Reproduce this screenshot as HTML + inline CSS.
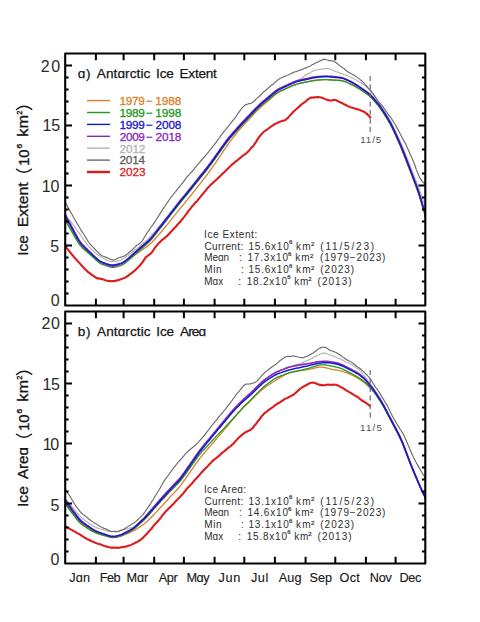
<!DOCTYPE html>
<html><head><meta charset="utf-8"><style>
html,body { margin:0; padding:0; background:#fff; width:480px; height:622px; overflow:hidden; }
svg { display:block; }
</style></head><body>
<svg width="480" height="622" viewBox="0 0 480 622">
<style>
text { font-family: "Liberation Sans", sans-serif; }
</style>
<rect width="480" height="622" fill="#fff"/>
<path d="M65.2,216.7L66.2,217.3L67.2,218.1L68.2,219.0L69.2,219.8L70.2,220.9L71.2,222.0L72.2,223.3L73.2,224.6L74.2,226.0L75.2,227.3L76.2,228.9L77.2,230.3L78.2,231.7L79.2,233.1L80.2,234.6L81.2,236.1L82.2,237.4L83.2,239.0L84.2,240.6L85.2,241.9L86.2,243.1L87.2,244.5L88.2,245.8L89.2,246.9L90.2,248.0L91.2,249.2L92.2,250.1L93.2,250.9L94.2,252.0L95.2,253.0L96.2,253.6L97.2,254.4L98.2,255.2L99.2,255.8L100.2,256.4L101.2,257.1L102.2,257.6L103.2,258.2L104.2,258.7L105.2,259.2L106.2,259.7L107.2,260.4L108.2,260.8L109.2,261.0L110.2,261.4L111.2,261.7L112.2,261.7L113.2,261.6L114.2,261.6L115.2,261.4L116.2,261.3L117.2,261.1L118.2,260.9L119.2,260.8L120.2,260.3L121.2,259.9L122.2,259.4L123.2,258.7L124.2,258.1L125.2,257.5L126.2,256.6L127.2,256.0L128.2,255.4L129.2,254.7L130.2,254.0L131.2,253.3L132.2,252.4L133.2,251.5L134.2,250.6L135.2,249.8L136.2,249.0L137.2,248.1L138.2,247.4L139.2,246.6L140.2,245.7L141.2,244.8L142.2,244.0L143.2,243.1L144.2,242.4L145.2,241.6L146.2,240.7L147.2,239.8L148.2,238.8L149.2,237.7L150.2,236.6L151.2,235.6L152.2,234.5L153.2,233.5L154.2,232.4L155.2,231.3L156.2,230.1L157.2,228.7L158.2,227.4L159.2,226.2L160.2,225.1L161.2,224.0L162.2,222.8L163.2,221.6L164.2,220.3L165.2,218.8L166.2,217.7L167.2,216.7L168.2,215.5L169.2,214.1L170.2,213.0L171.2,211.6L172.2,210.4L173.2,209.1L174.2,207.9L175.2,206.8L176.2,205.4L177.2,204.0L178.2,202.7L179.2,201.4L180.2,200.0L181.2,198.9L182.2,197.6L183.2,196.5L184.2,195.3L185.2,194.2L186.2,192.8L187.2,191.6L188.2,190.1L189.2,189.0L190.2,187.7L191.2,186.6L192.2,185.3L193.2,184.2L194.2,182.8L195.2,181.6L196.2,180.3L197.2,179.0L198.2,177.6L199.2,176.4L200.2,175.2L201.2,173.9L202.2,172.9L203.2,171.9L204.2,170.6L205.2,169.2L206.2,168.0L207.2,166.8L208.2,165.3L209.2,164.0L210.2,162.9L211.2,161.5L212.2,159.9L213.2,158.7L214.2,157.4L215.2,155.9L216.2,154.7L217.2,153.5L218.2,151.9L219.2,150.4L220.2,148.9L221.2,147.4L222.2,146.1L223.2,144.8L224.2,143.4L225.2,142.1L226.2,140.6L227.2,139.3L228.2,138.2L229.2,136.9L230.2,135.7L231.2,134.6L232.2,133.3L233.2,132.3L234.2,131.4L235.2,130.4L236.2,129.2L237.2,128.3L238.2,127.1L239.2,125.8L240.2,124.8L241.2,123.8L242.2,122.5L243.2,121.4L244.2,120.3L245.2,119.0L246.2,118.0L247.2,117.0L248.2,116.0L249.2,115.1L250.2,114.2L251.2,113.2L252.2,112.2L253.2,111.4L254.2,110.6L255.2,109.5L256.2,108.6L257.2,107.8L258.2,106.9L259.2,106.0L260.2,105.2L261.2,104.4L262.2,103.4L263.2,102.3L264.2,101.3L265.2,100.5L266.2,99.7L267.2,98.9L268.2,98.0L269.2,97.0L270.2,96.1L271.2,95.1L272.2,94.0L273.2,93.2L274.2,92.3L275.2,91.6L276.2,90.7L277.2,90.0L278.2,89.3L279.2,88.6L280.2,88.1L281.2,87.6L282.2,87.3L283.2,86.8L284.2,86.5L285.2,85.9L286.2,85.5L287.2,85.0L288.2,84.6L289.2,84.1L290.2,83.6L291.2,83.1L292.2,82.7L293.2,82.2L294.2,81.9L295.2,81.4L296.2,80.9L297.2,80.4L298.2,80.0L299.2,79.5L300.2,79.0L301.2,78.4L302.2,77.7L303.2,76.9L304.2,76.1L305.2,75.4L306.2,74.9L307.2,74.4L308.2,73.9L309.2,73.4L310.2,72.8L311.2,72.1L312.2,71.5L313.2,71.1L314.2,70.6L315.2,70.2L316.2,70.0L317.2,69.8L318.2,69.6L319.2,69.5L320.2,69.4L321.2,69.2L322.2,69.1L323.2,68.8L324.2,68.6L325.2,68.6L326.2,68.7L327.2,68.6L328.2,68.6L329.2,68.9L330.2,69.2L331.2,69.3L332.2,69.9L333.2,70.5L334.2,70.9L335.2,71.1L336.2,71.7L337.2,72.0L338.2,72.4L339.2,72.5L340.2,73.1L341.2,73.5L342.2,73.7L343.2,74.1L344.2,74.6L345.2,75.0L346.2,75.2L347.2,75.7L348.2,76.2L349.2,76.7L350.2,77.0L351.2,77.5L352.2,78.0L353.2,78.4L354.2,78.8L355.2,79.5L356.2,80.1L357.2,80.8L358.2,81.3L359.2,81.8L360.2,82.3L361.2,82.9L362.2,83.5L363.2,84.3L364.2,85.1L365.2,85.9L366.2,86.8L367.2,87.7L368.2,88.7L369.2,89.8L370.2,91.0L371.2,92.3L372.2,93.5L373.2,94.8L374.2,96.3L375.2,97.8L376.2,99.1L377.2,100.5L378.2,101.8L379.2,103.3L380.2,104.8L381.2,106.3L382.2,107.7L383.2,109.5L384.2,111.0L385.2,112.5L386.2,114.2L387.2,115.8L388.2,117.3L389.2,119.0L390.2,120.6L391.2,122.3L392.2,124.4L393.2,126.4L394.2,128.4L395.2,130.7L396.2,132.9L397.2,134.9L398.2,137.1L399.2,139.2L400.2,141.5L401.2,143.6L402.2,145.9L403.2,148.2L404.2,150.6L405.2,153.1L406.2,155.8L407.2,158.4L408.2,161.0L409.2,163.7L410.2,166.0L411.2,168.6L412.2,171.1L413.2,173.6L414.2,176.1L415.2,178.7L416.2,181.3L417.2,184.0L418.2,186.6L419.2,189.3L420.2,192.1L421.2,194.9L422.2,197.8L423.2,200.6L424.2,203.4L425.2,205.9L425.3,208.3" stroke="#b4b4b4" stroke-width="1.2" fill="none" stroke-linejoin="round"/>
<path d="M65.2,202.1L66.2,204.0L67.2,205.8L68.2,207.6L69.2,209.4L70.2,211.2L71.2,213.0L72.2,214.8L73.2,216.7L74.2,218.5L75.2,220.3L76.2,221.9L77.2,223.8L78.2,225.2L79.2,227.0L80.2,228.7L81.2,230.4L82.2,231.8L83.2,233.5L84.2,234.8L85.2,236.5L86.2,238.2L87.2,239.9L88.2,241.5L89.2,243.0L90.2,244.2L91.2,245.2L92.2,246.3L93.2,247.4L94.2,248.3L95.2,249.3L96.2,250.6L97.2,251.5L98.2,252.4L99.2,253.5L100.2,254.5L101.2,255.2L102.2,255.8L103.2,256.2L104.2,256.6L105.2,256.9L106.2,257.3L107.2,257.9L108.2,258.3L109.2,258.7L110.2,259.3L111.2,259.6L112.2,259.8L113.2,260.1L114.2,259.8L115.2,259.5L116.2,259.1L117.2,258.6L118.2,258.0L119.2,257.7L120.2,257.4L121.2,257.1L122.2,256.8L123.2,256.4L124.2,256.0L125.2,255.5L126.2,254.7L127.2,253.9L128.2,253.2L129.2,252.3L130.2,251.4L131.2,250.8L132.2,250.0L133.2,248.9L134.2,248.0L135.2,246.9L136.2,245.8L137.2,245.1L138.2,244.5L139.2,243.7L140.2,242.9L141.2,242.0L142.2,240.8L143.2,239.2L144.2,237.6L145.2,236.0L146.2,234.4L147.2,232.6L148.2,231.4L149.2,229.9L150.2,228.3L151.2,227.0L152.2,225.7L153.2,224.2L154.2,222.8L155.2,221.4L156.2,219.8L157.2,218.2L158.2,216.6L159.2,215.0L160.2,213.4L161.2,211.8L162.2,210.4L163.2,208.6L164.2,207.2L165.2,205.8L166.2,204.3L167.2,202.7L168.2,201.3L169.2,199.8L170.2,198.5L171.2,196.9L172.2,195.8L173.2,194.5L174.2,193.4L175.2,192.0L176.2,190.8L177.2,189.4L178.2,188.3L179.2,186.9L180.2,185.8L181.2,184.7L182.2,183.4L183.2,182.1L184.2,180.7L185.2,179.4L186.2,177.9L187.2,176.7L188.2,175.6L189.2,174.6L190.2,173.4L191.2,172.5L192.2,171.5L193.2,170.1L194.2,168.9L195.2,167.5L196.2,166.4L197.2,165.0L198.2,164.1L199.2,162.9L200.2,161.7L201.2,160.6L202.2,159.5L203.2,158.1L204.2,157.0L205.2,156.1L206.2,154.7L207.2,153.4L208.2,152.5L209.2,151.0L210.2,149.7L211.2,148.6L212.2,147.4L213.2,146.0L214.2,144.8L215.2,143.4L216.2,142.1L217.2,140.6L218.2,139.3L219.2,138.0L220.2,136.6L221.2,135.1L222.2,133.8L223.2,132.6L224.2,131.1L225.2,130.1L226.2,128.9L227.2,127.7L228.2,126.4L229.2,125.2L230.2,123.8L231.2,122.6L232.2,121.4L233.2,120.1L234.2,118.9L235.2,117.7L236.2,116.2L237.2,114.7L238.2,113.2L239.2,111.8L240.2,110.4L241.2,109.0L242.2,107.8L243.2,106.9L244.2,105.9L245.2,105.0L246.2,104.6L247.2,104.3L248.2,103.8L249.2,103.6L250.2,103.6L251.2,103.2L252.2,102.5L253.2,101.9L254.2,101.0L255.2,100.1L256.2,98.9L257.2,98.1L258.2,97.3L259.2,96.5L260.2,95.4L261.2,94.4L262.2,93.4L263.2,92.4L264.2,91.4L265.2,90.8L266.2,90.0L267.2,89.0L268.2,87.9L269.2,87.2L270.2,86.3L271.2,85.4L272.2,84.8L273.2,84.2L274.2,83.1L275.2,82.2L276.2,81.4L277.2,80.5L278.2,79.6L279.2,79.1L280.2,78.3L281.2,78.0L282.2,77.4L283.2,76.9L284.2,76.4L285.2,76.1L286.2,75.7L287.2,75.2L288.2,75.0L289.2,74.5L290.2,73.9L291.2,73.4L292.2,73.1L293.2,72.5L294.2,72.1L295.2,71.8L296.2,71.6L297.2,71.1L298.2,70.8L299.2,70.6L300.2,70.1L301.2,69.6L302.2,69.5L303.2,69.1L304.2,68.6L305.2,68.1L306.2,67.9L307.2,67.3L308.2,66.8L309.2,66.5L310.2,66.0L311.2,65.4L312.2,64.7L313.2,64.4L314.2,63.7L315.2,63.1L316.2,62.8L317.2,62.3L318.2,61.7L319.2,61.3L320.2,60.9L321.2,60.3L322.2,59.9L323.2,59.6L324.2,59.2L325.2,59.4L326.2,59.7L327.2,60.0L328.2,60.2L329.2,60.6L330.2,60.6L331.2,60.7L332.2,61.0L333.2,61.1L334.2,61.6L335.2,62.1L336.2,62.8L337.2,63.5L338.2,64.4L339.2,65.2L340.2,65.9L341.2,66.7L342.2,67.5L343.2,68.1L344.2,68.8L345.2,69.7L346.2,70.6L347.2,71.2L348.2,72.0L349.2,72.7L350.2,73.1L351.2,73.7L352.2,74.3L353.2,74.8L354.2,75.3L355.2,76.1L356.2,76.6L357.2,77.4L358.2,78.1L359.2,78.9L360.2,79.6L361.2,80.5L362.2,81.4L363.2,82.4L364.2,83.4L365.2,84.6L366.2,85.7L367.2,86.8L368.2,87.9L369.2,88.9L370.2,89.9L371.2,91.1L372.2,92.5L373.2,93.8L374.2,95.3L375.2,96.9L376.2,98.2L377.2,99.7L378.2,101.0L379.2,102.3L380.2,103.4L381.2,104.6L382.2,105.8L383.2,107.2L384.2,108.6L385.2,110.1L386.2,111.5L387.2,112.9L388.2,114.3L389.2,115.6L390.2,116.9L391.2,118.2L392.2,119.7L393.2,121.3L394.2,123.0L395.2,124.5L396.2,126.3L397.2,128.1L398.2,129.9L399.2,131.8L400.2,134.0L401.2,135.8L402.2,137.8L403.2,139.6L404.2,141.4L405.2,143.1L406.2,145.3L407.2,147.4L408.2,149.7L409.2,152.0L410.2,154.2L411.2,156.3L412.2,158.6L413.2,161.0L414.2,163.5L415.2,166.3L416.2,169.2L417.2,171.6L418.2,174.1L419.2,176.4L420.2,178.4L421.2,179.9L422.2,181.4L423.2,182.5L424.2,183.4L425.2,184.3L425.3,185.2" stroke="#6a6a6a" stroke-width="1.15" fill="none" stroke-linejoin="round"/>
<path d="M65.2,218.5L66.2,220.3L67.2,222.0L68.2,223.8L69.2,225.6L70.2,227.4L71.2,229.1L72.2,230.9L73.2,232.7L74.2,234.5L75.2,236.2L76.2,238.0L77.2,239.7L78.2,241.3L79.2,242.9L80.2,244.3L81.2,245.6L82.2,246.7L83.2,247.7L84.2,248.6L85.2,249.6L86.2,250.4L87.2,251.3L88.2,252.2L89.2,253.0L90.2,253.9L91.2,254.8L92.2,255.6L93.2,256.5L94.2,257.4L95.2,258.2L96.2,259.0L97.2,259.8L98.2,260.6L99.2,261.3L100.2,261.9L101.2,262.4L102.2,262.9L103.2,263.3L104.2,263.6L105.2,263.9L106.2,264.3L107.2,264.6L108.2,264.9L109.2,265.2L110.2,265.4L111.2,265.6L112.2,265.7L113.2,265.7L114.2,265.6L115.2,265.4L116.2,265.2L117.2,264.9L118.2,264.6L119.2,264.4L120.2,264.0L121.2,263.7L122.2,263.3L123.2,262.8L124.2,262.3L125.2,261.7L126.2,261.0L127.2,260.4L128.2,259.7L129.2,258.9L130.2,258.2L131.2,257.5L132.2,256.8L133.2,256.1L134.2,255.4L135.2,254.7L136.2,254.0L137.2,253.3L138.2,252.6L139.2,251.9L140.2,251.2L141.2,250.5L142.2,249.8L143.2,249.1L144.2,248.4L145.2,247.8L146.2,247.1L147.2,246.4L148.2,245.6L149.2,244.8L150.2,243.9L151.2,243.0L152.2,242.0L153.2,240.9L154.2,239.8L155.2,238.7L156.2,237.6L157.2,236.5L158.2,235.4L159.2,234.2L160.2,233.0L161.2,231.9L162.2,230.7L163.2,229.5L164.2,228.2L165.2,227.0L166.2,225.8L167.2,224.6L168.2,223.3L169.2,222.1L170.2,220.8L171.2,219.6L172.2,218.3L173.2,217.1L174.2,215.8L175.2,214.6L176.2,213.3L177.2,212.1L178.2,210.8L179.2,209.6L180.2,208.4L181.2,207.2L182.2,206.0L183.2,204.8L184.2,203.6L185.2,202.3L186.2,201.1L187.2,199.9L188.2,198.7L189.2,197.5L190.2,196.2L191.2,195.0L192.2,193.8L193.2,192.5L194.2,191.3L195.2,190.0L196.2,188.7L197.2,187.5L198.2,186.2L199.2,184.9L200.2,183.6L201.2,182.3L202.2,181.0L203.2,179.7L204.2,178.4L205.2,177.2L206.2,175.8L207.2,174.5L208.2,173.2L209.2,171.8L210.2,170.4L211.2,169.0L212.2,167.6L213.2,166.2L214.2,164.7L215.2,163.3L216.2,161.8L217.2,160.4L218.2,158.9L219.2,157.4L220.2,156.0L221.2,154.5L222.2,152.9L223.2,151.4L224.2,149.9L225.2,148.4L226.2,146.9L227.2,145.5L228.2,144.1L229.2,142.7L230.2,141.4L231.2,140.1L232.2,138.8L233.2,137.5L234.2,136.2L235.2,135.0L236.2,133.7L237.2,132.4L238.2,131.2L239.2,130.0L240.2,128.8L241.2,127.7L242.2,126.6L243.2,125.5L244.2,124.4L245.2,123.4L246.2,122.3L247.2,121.2L248.2,120.2L249.2,119.1L250.2,118.0L251.2,117.0L252.2,115.9L253.2,114.8L254.2,113.8L255.2,112.7L256.2,111.6L257.2,110.6L258.2,109.6L259.2,108.6L260.2,107.7L261.2,106.8L262.2,105.9L263.2,105.0L264.2,104.2L265.2,103.3L266.2,102.5L267.2,101.6L268.2,100.7L269.2,99.9L270.2,99.0L271.2,98.2L272.2,97.3L273.2,96.5L274.2,95.6L275.2,94.8L276.2,94.1L277.2,93.4L278.2,92.7L279.2,92.1L280.2,91.6L281.2,91.1L282.2,90.6L283.2,90.1L284.2,89.6L285.2,89.2L286.2,88.7L287.2,88.3L288.2,87.8L289.2,87.3L290.2,86.9L291.2,86.4L292.2,86.0L293.2,85.6L294.2,85.2L295.2,84.8L296.2,84.4L297.2,84.1L298.2,83.9L299.2,83.6L300.2,83.4L301.2,83.2L302.2,83.0L303.2,82.7L304.2,82.5L305.2,82.3L306.2,82.1L307.2,81.9L308.2,81.7L309.2,81.5L310.2,81.3L311.2,81.1L312.2,80.9L313.2,80.7L314.2,80.5L315.2,80.4L316.2,80.3L317.2,80.2L318.2,80.1L319.2,80.0L320.2,79.9L321.2,79.8L322.2,79.8L323.2,79.7L324.2,79.7L325.2,79.7L326.2,79.7L327.2,79.7L328.2,79.7L329.2,79.8L330.2,79.9L331.2,79.9L332.2,80.0L333.2,80.1L334.2,80.1L335.2,80.2L336.2,80.2L337.2,80.3L338.2,80.3L339.2,80.4L340.2,80.5L341.2,80.6L342.2,80.8L343.2,81.1L344.2,81.4L345.2,81.7L346.2,82.1L347.2,82.5L348.2,83.0L349.2,83.4L350.2,83.9L351.2,84.3L352.2,84.8L353.2,85.3L354.2,85.8L355.2,86.4L356.2,87.0L357.2,87.6L358.2,88.2L359.2,88.8L360.2,89.5L361.2,90.1L362.2,90.8L363.2,91.4L364.2,92.1L365.2,92.7L366.2,93.4L367.2,94.1L368.2,94.8L369.2,95.6L370.2,96.5L371.2,97.4L372.2,98.5L373.2,99.6L374.2,100.7L375.2,101.8L376.2,103.0L377.2,104.2L378.2,105.4L379.2,106.7L380.2,108.0L381.2,109.4L382.2,110.9L383.2,112.4L384.2,114.0L385.2,115.6L386.2,117.2L387.2,118.8L388.2,120.5L389.2,122.2L390.2,124.0L391.2,125.9L392.2,127.9L393.2,130.0L394.2,132.1L395.2,134.3L396.2,136.5L397.2,138.7L398.2,141.0L399.2,143.3L400.2,145.6L401.2,148.0L402.2,150.4L403.2,152.9L404.2,155.4L405.2,158.0L406.2,160.6L407.2,163.2L408.2,165.8L409.2,168.4L410.2,171.0L411.2,173.6L412.2,176.2L413.2,178.9L414.2,181.5L415.2,184.2L416.2,186.9L417.2,189.6L418.2,192.5L419.2,195.5L420.2,198.7L421.2,202.0L422.2,205.4L423.2,208.8L424.2,212.0L425.2,215.0L425.3,217.9" stroke="#dd7f2a" stroke-width="1.3" fill="none" stroke-linejoin="round"/>
<path d="M65.2,220.3L66.2,222.0L67.2,223.7L68.2,225.5L69.2,227.2L70.2,228.9L71.2,230.7L72.2,232.4L73.2,234.1L74.2,235.9L75.2,237.6L76.2,239.3L77.2,241.0L78.2,242.6L79.2,244.0L80.2,245.4L81.2,246.6L82.2,247.7L83.2,248.7L84.2,249.6L85.2,250.5L86.2,251.3L87.2,252.1L88.2,253.0L89.2,253.8L90.2,254.7L91.2,255.6L92.2,256.5L93.2,257.4L94.2,258.4L95.2,259.3L96.2,260.2L97.2,261.0L98.2,261.9L99.2,262.6L100.2,263.3L101.2,263.8L102.2,264.3L103.2,264.7L104.2,265.1L105.2,265.5L106.2,265.8L107.2,266.1L108.2,266.5L109.2,266.8L110.2,267.0L111.2,267.2L112.2,267.3L113.2,267.4L114.2,267.3L115.2,267.1L116.2,266.9L117.2,266.7L118.2,266.4L119.2,266.1L120.2,265.7L121.2,265.4L122.2,264.9L123.2,264.4L124.2,263.8L125.2,263.1L126.2,262.3L127.2,261.4L128.2,260.6L129.2,259.7L130.2,258.8L131.2,257.9L132.2,257.0L133.2,256.1L134.2,255.2L135.2,254.3L136.2,253.4L137.2,252.5L138.2,251.6L139.2,250.7L140.2,249.8L141.2,248.9L142.2,248.0L143.2,247.2L144.2,246.3L145.2,245.4L146.2,244.5L147.2,243.6L148.2,242.7L149.2,241.7L150.2,240.7L151.2,239.6L152.2,238.4L153.2,237.2L154.2,235.9L155.2,234.7L156.2,233.4L157.2,232.1L158.2,230.9L159.2,229.6L160.2,228.3L161.2,227.1L162.2,225.8L163.2,224.5L164.2,223.2L165.2,222.0L166.2,220.7L167.2,219.4L168.2,218.1L169.2,216.8L170.2,215.5L171.2,214.2L172.2,212.9L173.2,211.7L174.2,210.4L175.2,209.1L176.2,207.8L177.2,206.5L178.2,205.3L179.2,204.0L180.2,202.8L181.2,201.6L182.2,200.3L183.2,199.1L184.2,197.9L185.2,196.7L186.2,195.5L187.2,194.3L188.2,193.1L189.2,191.8L190.2,190.6L191.2,189.4L192.2,188.1L193.2,186.9L194.2,185.6L195.2,184.4L196.2,183.2L197.2,181.9L198.2,180.7L199.2,179.4L200.2,178.2L201.2,176.9L202.2,175.7L203.2,174.5L204.2,173.2L205.2,172.0L206.2,170.7L207.2,169.4L208.2,168.1L209.2,166.8L210.2,165.4L211.2,164.1L212.2,162.7L213.2,161.3L214.2,159.9L215.2,158.5L216.2,157.1L217.2,155.7L218.2,154.3L219.2,152.9L220.2,151.5L221.2,150.1L222.2,148.7L223.2,147.3L224.2,145.9L225.2,144.6L226.2,143.2L227.2,141.9L228.2,140.6L229.2,139.4L230.2,138.2L231.2,137.0L232.2,135.9L233.2,134.8L234.2,133.6L235.2,132.5L236.2,131.4L237.2,130.2L238.2,129.1L239.2,128.0L240.2,126.9L241.2,125.8L242.2,124.8L243.2,123.7L244.2,122.7L245.2,121.6L246.2,120.6L247.2,119.5L248.2,118.5L249.2,117.4L250.2,116.4L251.2,115.4L252.2,114.3L253.2,113.3L254.2,112.2L255.2,111.2L256.2,110.2L257.2,109.2L258.2,108.2L259.2,107.3L260.2,106.4L261.2,105.5L262.2,104.7L263.2,103.8L264.2,103.0L265.2,102.2L266.2,101.4L267.2,100.5L268.2,99.7L269.2,98.9L270.2,98.1L271.2,97.3L272.2,96.4L273.2,95.6L274.2,94.8L275.2,94.1L276.2,93.3L277.2,92.7L278.2,92.0L279.2,91.5L280.2,91.0L281.2,90.5L282.2,90.1L283.2,89.6L284.2,89.2L285.2,88.8L286.2,88.3L287.2,87.9L288.2,87.5L289.2,87.0L290.2,86.6L291.2,86.2L292.2,85.8L293.2,85.4L294.2,85.0L295.2,84.6L296.2,84.3L297.2,84.0L298.2,83.7L299.2,83.4L300.2,83.2L301.2,83.0L302.2,82.8L303.2,82.6L304.2,82.4L305.2,82.2L306.2,82.0L307.2,81.8L308.2,81.6L309.2,81.4L310.2,81.2L311.2,81.0L312.2,80.8L313.2,80.6L314.2,80.5L315.2,80.3L316.2,80.2L317.2,80.1L318.2,80.0L319.2,79.9L320.2,79.9L321.2,79.8L322.2,79.7L323.2,79.7L324.2,79.6L325.2,79.6L326.2,79.6L327.2,79.7L328.2,79.7L329.2,79.8L330.2,79.9L331.2,79.9L332.2,80.0L333.2,80.1L334.2,80.1L335.2,80.2L336.2,80.2L337.2,80.3L338.2,80.3L339.2,80.4L340.2,80.5L341.2,80.6L342.2,80.8L343.2,81.1L344.2,81.4L345.2,81.7L346.2,82.1L347.2,82.5L348.2,83.0L349.2,83.4L350.2,83.9L351.2,84.3L352.2,84.8L353.2,85.3L354.2,85.8L355.2,86.4L356.2,87.0L357.2,87.6L358.2,88.2L359.2,88.8L360.2,89.5L361.2,90.1L362.2,90.8L363.2,91.4L364.2,92.1L365.2,92.8L366.2,93.4L367.2,94.2L368.2,94.9L369.2,95.7L370.2,96.6L371.2,97.6L372.2,98.6L373.2,99.7L374.2,100.9L375.2,102.0L376.2,103.2L377.2,104.4L378.2,105.6L379.2,106.9L380.2,108.2L381.2,109.6L382.2,111.1L383.2,112.6L384.2,114.2L385.2,115.8L386.2,117.4L387.2,119.0L388.2,120.7L389.2,122.4L390.2,124.2L391.2,126.1L392.2,128.1L393.2,130.1L394.2,132.3L395.2,134.5L396.2,136.7L397.2,138.9L398.2,141.1L399.2,143.4L400.2,145.7L401.2,148.1L402.2,150.5L403.2,153.0L404.2,155.6L405.2,158.1L406.2,160.7L407.2,163.3L408.2,165.9L409.2,168.5L410.2,171.1L411.2,173.7L412.2,176.3L413.2,178.9L414.2,181.6L415.2,184.2L416.2,186.9L417.2,189.7L418.2,192.5L419.2,195.6L420.2,198.7L421.2,202.1L422.2,205.5L423.2,208.8L424.2,212.0L425.2,215.0L425.3,217.9" stroke="#229922" stroke-width="1.3" fill="none" stroke-linejoin="round"/>
<path d="M65.2,214.3L66.2,216.2L67.2,218.1L68.2,219.9L69.2,221.8L70.2,223.7L71.2,225.6L72.2,227.4L73.2,229.3L74.2,231.2L75.2,233.1L76.2,234.9L77.2,236.7L78.2,238.5L79.2,240.1L80.2,241.6L81.2,243.0L82.2,244.2L83.2,245.3L84.2,246.4L85.2,247.4L86.2,248.3L87.2,249.3L88.2,250.3L89.2,251.3L90.2,252.3L91.2,253.2L92.2,254.2L93.2,255.2L94.2,256.2L95.2,257.2L96.2,258.1L97.2,259.1L98.2,260.0L99.2,260.8L100.2,261.5L101.2,262.1L102.2,262.6L103.2,263.1L104.2,263.6L105.2,264.0L106.2,264.4L107.2,264.8L108.2,265.2L109.2,265.5L110.2,265.8L111.2,266.0L112.2,266.1L113.2,266.1L114.2,266.0L115.2,265.8L116.2,265.5L117.2,265.2L118.2,264.8L119.2,264.5L120.2,264.1L121.2,263.7L122.2,263.2L123.2,262.7L124.2,262.0L125.2,261.3L126.2,260.5L127.2,259.6L128.2,258.7L129.2,257.8L130.2,256.9L131.2,255.9L132.2,255.0L133.2,254.1L134.2,253.1L135.2,252.2L136.2,251.3L137.2,250.4L138.2,249.5L139.2,248.6L140.2,247.7L141.2,246.8L142.2,245.9L143.2,245.1L144.2,244.2L145.2,243.4L146.2,242.6L147.2,241.7L148.2,240.8L149.2,239.8L150.2,238.8L151.2,237.7L152.2,236.5L153.2,235.3L154.2,234.1L155.2,232.8L156.2,231.5L157.2,230.2L158.2,229.0L159.2,227.7L160.2,226.4L161.2,225.1L162.2,223.9L163.2,222.6L164.2,221.3L165.2,220.0L166.2,218.7L167.2,217.4L168.2,216.2L169.2,214.9L170.2,213.6L171.2,212.3L172.2,211.0L173.2,209.7L174.2,208.4L175.2,207.1L176.2,205.8L177.2,204.5L178.2,203.3L179.2,202.0L180.2,200.8L181.2,199.5L182.2,198.3L183.2,197.1L184.2,195.9L185.2,194.7L186.2,193.4L187.2,192.2L188.2,191.0L189.2,189.8L190.2,188.5L191.2,187.3L192.2,186.0L193.2,184.8L194.2,183.6L195.2,182.3L196.2,181.1L197.2,179.8L198.2,178.6L199.2,177.3L200.2,176.1L201.2,174.8L202.2,173.6L203.2,172.3L204.2,171.1L205.2,169.8L206.2,168.5L207.2,167.2L208.2,165.9L209.2,164.6L210.2,163.3L211.2,161.9L212.2,160.5L213.2,159.1L214.2,157.7L215.2,156.3L216.2,154.9L217.2,153.5L218.2,152.1L219.2,150.7L220.2,149.3L221.2,147.9L222.2,146.5L223.2,145.1L224.2,143.7L225.2,142.3L226.2,140.9L227.2,139.6L228.2,138.3L229.2,137.1L230.2,135.9L231.2,134.7L232.2,133.6L233.2,132.4L234.2,131.3L235.2,130.2L236.2,129.0L237.2,127.9L238.2,126.8L239.2,125.7L240.2,124.6L241.2,123.5L242.2,122.4L243.2,121.4L244.2,120.3L245.2,119.3L246.2,118.2L247.2,117.1L248.2,116.1L249.2,115.0L250.2,114.0L251.2,112.9L252.2,111.9L253.2,110.8L254.2,109.8L255.2,108.7L256.2,107.7L257.2,106.7L258.2,105.7L259.2,104.7L260.2,103.8L261.2,102.9L262.2,102.1L263.2,101.2L264.2,100.4L265.2,99.5L266.2,98.7L267.2,97.9L268.2,97.0L269.2,96.2L270.2,95.3L271.2,94.5L272.2,93.7L273.2,92.8L274.2,92.0L275.2,91.2L276.2,90.5L277.2,89.8L278.2,89.2L279.2,88.6L280.2,88.1L281.2,87.6L282.2,87.1L283.2,86.7L284.2,86.2L285.2,85.8L286.2,85.3L287.2,84.9L288.2,84.4L289.2,84.0L290.2,83.6L291.2,83.1L292.2,82.7L293.2,82.2L294.2,81.8L295.2,81.4L296.2,81.1L297.2,80.8L298.2,80.5L299.2,80.2L300.2,80.0L301.2,79.8L302.2,79.6L303.2,79.3L304.2,79.1L305.2,78.9L306.2,78.7L307.2,78.5L308.2,78.3L309.2,78.0L310.2,77.8L311.2,77.6L312.2,77.4L313.2,77.2L314.2,77.0L315.2,76.9L316.2,76.8L317.2,76.7L318.2,76.6L319.2,76.5L320.2,76.4L321.2,76.3L322.2,76.2L323.2,76.2L324.2,76.1L325.2,76.1L326.2,76.1L327.2,76.1L328.2,76.2L329.2,76.2L330.2,76.3L331.2,76.4L332.2,76.5L333.2,76.6L334.2,76.7L335.2,76.8L336.2,76.9L337.2,77.0L338.2,77.1L339.2,77.2L340.2,77.4L341.2,77.6L342.2,77.8L343.2,78.1L344.2,78.4L345.2,78.8L346.2,79.3L347.2,79.7L348.2,80.2L349.2,80.7L350.2,81.2L351.2,81.7L352.2,82.2L353.2,82.8L354.2,83.4L355.2,84.0L356.2,84.6L357.2,85.2L358.2,85.9L359.2,86.6L360.2,87.3L361.2,87.9L362.2,88.6L363.2,89.3L364.2,90.0L365.2,90.7L366.2,91.4L367.2,92.1L368.2,92.9L369.2,93.7L370.2,94.6L371.2,95.6L372.2,96.7L373.2,97.8L374.2,99.0L375.2,100.2L376.2,101.4L377.2,102.6L378.2,103.9L379.2,105.1L380.2,106.5L381.2,107.9L382.2,109.4L383.2,110.9L384.2,112.5L385.2,114.0L386.2,115.6L387.2,117.3L388.2,118.9L389.2,120.6L390.2,122.4L391.2,124.3L392.2,126.3L393.2,128.4L394.2,130.5L395.2,132.7L396.2,134.9L397.2,137.1L398.2,139.4L399.2,141.7L400.2,144.0L401.2,146.4L402.2,148.8L403.2,151.3L404.2,153.8L405.2,156.3L406.2,158.9L407.2,161.5L408.2,164.1L409.2,166.7L410.2,169.3L411.2,171.9L412.2,174.5L413.2,177.2L414.2,179.8L415.2,182.5L416.2,185.1L417.2,187.9L418.2,190.8L419.2,193.8L420.2,196.9L421.2,200.3L422.2,203.7L423.2,207.0L424.2,210.2L425.2,213.2L425.3,216.1" stroke="#8a28bb" stroke-width="1.6" fill="none" stroke-linejoin="round"/>
<path d="M65.2,216.1L66.2,217.9L67.2,219.8L68.2,221.6L69.2,223.4L70.2,225.2L71.2,227.1L72.2,228.9L73.2,230.7L74.2,232.5L75.2,234.4L76.2,236.2L77.2,237.9L78.2,239.6L79.2,241.2L80.2,242.7L81.2,244.0L82.2,245.2L83.2,246.2L84.2,247.2L85.2,248.2L86.2,249.1L87.2,250.0L88.2,251.0L89.2,251.9L90.2,252.8L91.2,253.7L92.2,254.6L93.2,255.6L94.2,256.5L95.2,257.4L96.2,258.2L97.2,259.1L98.2,259.9L99.2,260.6L100.2,261.2L101.2,261.8L102.2,262.2L103.2,262.6L104.2,263.0L105.2,263.3L106.2,263.7L107.2,264.0L108.2,264.3L109.2,264.6L110.2,264.8L111.2,265.0L112.2,265.1L113.2,265.1L114.2,265.0L115.2,264.8L116.2,264.6L117.2,264.3L118.2,264.0L119.2,263.8L120.2,263.4L121.2,263.1L122.2,262.7L123.2,262.2L124.2,261.6L125.2,260.9L126.2,260.2L127.2,259.4L128.2,258.5L129.2,257.7L130.2,256.8L131.2,256.0L132.2,255.1L133.2,254.2L134.2,253.4L135.2,252.5L136.2,251.6L137.2,250.8L138.2,249.9L139.2,249.1L140.2,248.2L141.2,247.4L142.2,246.5L143.2,245.7L144.2,244.9L145.2,244.0L146.2,243.2L147.2,242.3L148.2,241.4L149.2,240.5L150.2,239.4L151.2,238.3L152.2,237.2L153.2,236.0L154.2,234.7L155.2,233.5L156.2,232.2L157.2,230.9L158.2,229.7L159.2,228.4L160.2,227.1L161.2,225.9L162.2,224.6L163.2,223.3L164.2,222.0L165.2,220.8L166.2,219.5L167.2,218.2L168.2,216.9L169.2,215.6L170.2,214.3L171.2,213.0L172.2,211.7L173.2,210.5L174.2,209.2L175.2,207.9L176.2,206.6L177.2,205.3L178.2,204.1L179.2,202.8L180.2,201.6L181.2,200.4L182.2,199.1L183.2,197.9L184.2,196.7L185.2,195.5L186.2,194.3L187.2,193.1L188.2,191.9L189.2,190.6L190.2,189.4L191.2,188.2L192.2,186.9L193.2,185.7L194.2,184.4L195.2,183.2L196.2,182.0L197.2,180.7L198.2,179.5L199.2,178.2L200.2,177.0L201.2,175.7L202.2,174.5L203.2,173.3L204.2,172.0L205.2,170.8L206.2,169.5L207.2,168.2L208.2,166.9L209.2,165.6L210.2,164.2L211.2,162.9L212.2,161.5L213.2,160.1L214.2,158.7L215.2,157.3L216.2,155.9L217.2,154.5L218.2,153.1L219.2,151.7L220.2,150.3L221.2,148.9L222.2,147.5L223.2,146.1L224.2,144.7L225.2,143.4L226.2,142.0L227.2,140.7L228.2,139.4L229.2,138.2L230.2,137.0L231.2,135.8L232.2,134.7L233.2,133.6L234.2,132.4L235.2,131.3L236.2,130.2L237.2,129.0L238.2,127.9L239.2,126.8L240.2,125.7L241.2,124.6L242.2,123.6L243.2,122.5L244.2,121.5L245.2,120.4L246.2,119.4L247.2,118.3L248.2,117.3L249.2,116.2L250.2,115.2L251.2,114.1L252.2,113.1L253.2,112.0L254.2,110.9L255.2,109.9L256.2,108.8L257.2,107.8L258.2,106.8L259.2,105.9L260.2,104.9L261.2,104.0L262.2,103.2L263.2,102.3L264.2,101.5L265.2,100.6L266.2,99.8L267.2,98.9L268.2,98.1L269.2,97.2L270.2,96.4L271.2,95.5L272.2,94.7L273.2,93.9L274.2,93.0L275.2,92.3L276.2,91.5L277.2,90.8L278.2,90.2L279.2,89.6L280.2,89.1L281.2,88.6L282.2,88.1L283.2,87.6L284.2,87.2L285.2,86.7L286.2,86.3L287.2,85.8L288.2,85.4L289.2,84.9L290.2,84.4L291.2,84.0L292.2,83.6L293.2,83.1L294.2,82.7L295.2,82.3L296.2,81.9L297.2,81.6L298.2,81.3L299.2,81.1L300.2,80.8L301.2,80.6L302.2,80.4L303.2,80.1L304.2,79.9L305.2,79.7L306.2,79.5L307.2,79.2L308.2,79.0L309.2,78.8L310.2,78.6L311.2,78.4L312.2,78.1L313.2,78.0L314.2,77.8L315.2,77.6L316.2,77.5L317.2,77.3L318.2,77.2L319.2,77.1L320.2,77.1L321.2,77.0L322.2,76.9L323.2,76.8L324.2,76.8L325.2,76.7L326.2,76.7L327.2,76.7L328.2,76.8L329.2,76.8L330.2,76.9L331.2,77.0L332.2,77.1L333.2,77.2L334.2,77.3L335.2,77.4L336.2,77.5L337.2,77.6L338.2,77.7L339.2,77.8L340.2,77.9L341.2,78.1L342.2,78.3L343.2,78.6L344.2,78.9L345.2,79.3L346.2,79.8L347.2,80.2L348.2,80.7L349.2,81.2L350.2,81.7L351.2,82.2L352.2,82.7L353.2,83.2L354.2,83.8L355.2,84.4L356.2,85.0L357.2,85.7L358.2,86.3L359.2,87.0L360.2,87.7L361.2,88.3L362.2,89.0L363.2,89.7L364.2,90.4L365.2,91.1L366.2,91.8L367.2,92.5L368.2,93.3L369.2,94.1L370.2,95.0L371.2,96.0L372.2,97.0L373.2,98.2L374.2,99.3L375.2,100.5L376.2,101.7L377.2,102.9L378.2,104.1L379.2,105.4L380.2,106.8L381.2,108.2L382.2,109.7L383.2,111.2L384.2,112.7L385.2,114.3L386.2,115.9L387.2,117.5L388.2,119.2L389.2,120.9L390.2,122.7L391.2,124.5L392.2,126.5L393.2,128.6L394.2,130.7L395.2,132.9L396.2,135.1L397.2,137.3L398.2,139.6L399.2,141.8L400.2,144.1L401.2,146.5L402.2,148.9L403.2,151.4L404.2,153.9L405.2,156.5L406.2,159.0L407.2,161.6L408.2,164.2L409.2,166.8L410.2,169.4L411.2,172.0L412.2,174.6L413.2,177.2L414.2,179.9L415.2,182.5L416.2,185.2L417.2,187.9L418.2,190.8L419.2,193.8L420.2,197.0L421.2,200.3L422.2,203.7L423.2,207.0L424.2,210.2L425.2,213.2L425.3,216.1" stroke="#1818cc" stroke-width="1.5" fill="none" stroke-linejoin="round"/>
<path d="M65.2,245.6L66.2,247.0L67.2,248.5L68.2,249.9L69.2,251.1L70.2,252.5L71.2,253.7L72.2,254.8L73.2,255.9L74.2,257.3L75.2,258.4L76.2,259.5L77.2,260.6L78.2,261.8L79.2,262.7L80.2,263.9L81.2,265.0L82.2,266.1L83.2,267.1L84.2,268.2L85.2,269.3L86.2,270.2L87.2,271.1L88.2,272.2L89.2,272.9L90.2,273.6L91.2,274.3L92.2,275.1L93.2,275.8L94.2,276.4L95.2,277.2L96.2,277.8L97.2,278.2L98.2,278.4L99.2,278.6L100.2,278.6L101.2,278.9L102.2,279.1L103.2,279.4L104.2,279.8L105.2,280.2L106.2,280.5L107.2,280.7L108.2,280.9L109.2,281.0L110.2,281.1L111.2,281.2L112.2,281.1L113.2,281.1L114.2,281.0L115.2,280.9L116.2,280.6L117.2,280.4L118.2,280.1L119.2,279.9L120.2,279.5L121.2,279.1L122.2,278.8L123.2,278.4L124.2,278.0L125.2,277.6L126.2,277.0L127.2,276.3L128.2,275.8L129.2,274.7L130.2,274.1L131.2,273.4L132.2,272.6L133.2,271.8L134.2,271.1L135.2,270.1L136.2,269.2L137.2,268.2L138.2,267.2L139.2,266.2L140.2,265.2L141.2,263.9L142.2,262.6L143.2,261.1L144.2,259.6L145.2,258.1L146.2,257.1L147.2,256.3L148.2,255.4L149.2,254.7L150.2,254.1L151.2,253.0L152.2,251.8L153.2,250.4L154.2,248.9L155.2,247.3L156.2,246.1L157.2,245.0L158.2,243.9L159.2,242.7L160.2,241.9L161.2,240.8L162.2,239.8L163.2,239.1L164.2,238.3L165.2,237.5L166.2,236.7L167.2,235.9L168.2,234.8L169.2,233.7L170.2,232.6L171.2,231.6L172.2,230.5L173.2,229.3L174.2,228.4L175.2,227.2L176.2,226.3L177.2,225.0L178.2,223.9L179.2,222.8L180.2,221.9L181.2,220.4L182.2,219.3L183.2,218.2L184.2,216.9L185.2,215.5L186.2,214.1L187.2,212.8L188.2,211.3L189.2,210.1L190.2,208.8L191.2,207.6L192.2,206.2L193.2,205.2L194.2,204.0L195.2,202.8L196.2,201.9L197.2,200.9L198.2,199.6L199.2,198.3L200.2,197.1L201.2,195.8L202.2,194.6L203.2,193.4L204.2,192.2L205.2,191.1L206.2,189.8L207.2,188.5L208.2,187.4L209.2,186.4L210.2,185.2L211.2,184.4L212.2,183.5L213.2,182.5L214.2,181.6L215.2,180.7L216.2,179.9L217.2,179.0L218.2,177.9L219.2,177.0L220.2,176.1L221.2,175.0L222.2,174.0L223.2,173.1L224.2,172.3L225.2,171.3L226.2,170.3L227.2,169.3L228.2,168.3L229.2,167.2L230.2,166.3L231.2,165.3L232.2,164.4L233.2,163.6L234.2,162.7L235.2,161.9L236.2,161.1L237.2,160.5L238.2,159.5L239.2,158.8L240.2,157.9L241.2,157.1L242.2,156.2L243.2,155.4L244.2,154.9L245.2,154.0L246.2,153.4L247.2,152.4L248.2,151.5L249.2,150.3L250.2,149.1L251.2,147.8L252.2,146.9L253.2,145.9L254.2,144.5L255.2,143.2L256.2,141.6L257.2,139.9L258.2,138.4L259.2,137.0L260.2,135.7L261.2,134.4L262.2,133.5L263.2,132.3L264.2,131.5L265.2,130.7L266.2,130.2L267.2,129.4L268.2,128.8L269.2,128.0L270.2,127.2L271.2,126.4L272.2,125.8L273.2,125.1L274.2,124.5L275.2,123.9L276.2,123.4L277.2,123.0L278.2,122.5L279.2,121.8L280.2,121.6L281.2,121.3L282.2,120.9L283.2,120.7L284.2,120.4L285.2,120.1L286.2,119.3L287.2,118.4L288.2,117.6L289.2,116.4L290.2,115.3L291.2,114.1L292.2,113.2L293.2,111.9L294.2,111.0L295.2,110.0L296.2,109.2L297.2,108.4L298.2,107.4L299.2,106.6L300.2,105.6L301.2,104.7L302.2,103.8L303.2,103.2L304.2,102.5L305.2,101.9L306.2,101.0L307.2,100.0L308.2,99.1L309.2,98.6L310.2,97.8L311.2,97.6L312.2,97.6L313.2,97.5L314.2,97.4L315.2,97.4L316.2,97.2L317.2,97.1L318.2,97.1L319.2,97.2L320.2,97.3L321.2,97.5L322.2,97.9L323.2,98.3L324.2,98.6L325.2,99.1L326.2,99.5L327.2,99.9L328.2,100.1L329.2,100.3L330.2,100.6L331.2,100.5L332.2,100.3L333.2,100.1L334.2,99.9L335.2,100.0L336.2,100.2L337.2,100.7L338.2,101.3L339.2,101.9L340.2,102.3L341.2,102.8L342.2,103.1L343.2,103.7L344.2,104.2L345.2,104.8L346.2,105.2L347.2,105.9L348.2,106.3L349.2,106.6L350.2,107.1L351.2,107.5L352.2,107.6L353.2,108.0L354.2,108.3L355.2,108.6L356.2,108.7L357.2,109.2L358.2,109.5L359.2,109.8L360.2,110.1L361.2,110.6L362.2,111.1L363.2,111.3L364.2,112.0L365.2,112.6L366.2,113.4L367.2,114.0L368.2,115.3L369.2,116.3L370.2,117.3L370.3,118.3" stroke="#dc1c1c" stroke-width="2.1" fill="none" stroke-linejoin="round"/>
<path d="M65.2,498.7L66.2,499.8L67.2,500.9L68.2,502.1L69.2,503.5L70.2,504.6L71.2,505.9L72.2,507.2L73.2,508.2L74.2,509.4L75.2,510.8L76.2,512.0L77.2,513.1L78.2,514.3L79.2,515.2L80.2,516.2L81.2,517.2L82.2,518.2L83.2,518.9L84.2,519.8L85.2,520.6L86.2,521.2L87.2,521.9L88.2,522.8L89.2,523.4L90.2,524.1L91.2,524.8L92.2,525.5L93.2,526.1L94.2,526.6L95.2,527.0L96.2,527.6L97.2,527.9L98.2,528.2L99.2,528.6L100.2,529.0L101.2,529.3L102.2,529.6L103.2,529.7L104.2,530.1L105.2,530.3L106.2,530.5L107.2,530.9L108.2,531.4L109.2,531.4L110.2,531.5L111.2,531.6L112.2,531.5L113.2,531.3L114.2,531.5L115.2,531.3L116.2,531.3L117.2,531.0L118.2,531.0L119.2,530.6L120.2,530.4L121.2,530.1L122.2,529.9L123.2,529.7L124.2,529.6L125.2,529.4L126.2,529.1L127.2,529.0L128.2,528.5L129.2,528.3L130.2,527.9L131.2,527.8L132.2,527.4L133.2,527.0L134.2,526.5L135.2,525.9L136.2,525.1L137.2,524.2L138.2,523.5L139.2,522.3L140.2,521.4L141.2,520.4L142.2,519.4L143.2,518.4L144.2,517.3L145.2,516.3L146.2,515.2L147.2,513.9L148.2,512.6L149.2,511.4L150.2,510.3L151.2,508.9L152.2,507.9L153.2,506.7L154.2,505.8L155.2,504.5L156.2,503.6L157.2,502.3L158.2,501.3L159.2,500.1L160.2,499.0L161.2,498.0L162.2,496.8L163.2,495.5L164.2,494.5L165.2,493.6L166.2,492.3L167.2,491.4L168.2,490.6L169.2,489.3L170.2,488.2L171.2,487.2L172.2,486.1L173.2,485.0L174.2,484.0L175.2,482.9L176.2,481.7L177.2,480.6L178.2,479.5L179.2,478.5L180.2,477.3L181.2,476.0L182.2,474.7L183.2,473.3L184.2,472.1L185.2,470.7L186.2,469.3L187.2,467.8L188.2,466.4L189.2,465.0L190.2,463.5L191.2,462.2L192.2,460.7L193.2,459.1L194.2,457.7L195.2,456.3L196.2,454.9L197.2,453.6L198.2,452.3L199.2,451.0L200.2,449.6L201.2,448.3L202.2,447.1L203.2,446.1L204.2,444.9L205.2,443.9L206.2,442.8L207.2,441.8L208.2,440.7L209.2,439.5L210.2,438.2L211.2,437.2L212.2,436.0L213.2,434.8L214.2,433.6L215.2,432.5L216.2,431.2L217.2,430.2L218.2,429.0L219.2,428.0L220.2,426.8L221.2,425.9L222.2,424.5L223.2,423.2L224.2,422.0L225.2,420.8L226.2,419.5L227.2,418.5L228.2,417.4L229.2,416.3L230.2,415.1L231.2,413.9L232.2,412.7L233.2,411.3L234.2,410.2L235.2,408.8L236.2,407.6L237.2,406.5L238.2,405.3L239.2,404.1L240.2,402.9L241.2,401.7L242.2,400.6L243.2,399.4L244.2,398.3L245.2,397.4L246.2,396.4L247.2,395.4L248.2,394.5L249.2,393.8L250.2,392.9L251.2,392.0L252.2,391.1L253.2,390.3L254.2,389.2L255.2,388.1L256.2,387.1L257.2,386.1L258.2,385.2L259.2,384.5L260.2,383.9L261.2,383.0L262.2,382.2L263.2,381.4L264.2,380.5L265.2,379.7L266.2,379.1L267.2,378.5L268.2,377.6L269.2,376.8L270.2,376.1L271.2,375.3L272.2,374.5L273.2,374.0L274.2,373.5L275.2,372.7L276.2,372.3L277.2,371.8L278.2,371.2L279.2,370.6L280.2,370.3L281.2,369.8L282.2,369.3L283.2,369.0L284.2,368.6L285.2,367.9L286.2,367.6L287.2,367.1L288.2,366.8L289.2,366.7L290.2,366.5L291.2,366.2L292.2,366.2L293.2,365.8L294.2,365.4L295.2,365.1L296.2,364.8L297.2,364.5L298.2,364.2L299.2,364.1L300.2,363.7L301.2,363.3L302.2,362.9L303.2,362.4L304.2,361.9L305.2,361.6L306.2,361.0L307.2,360.4L308.2,360.2L309.2,359.6L310.2,359.2L311.2,358.8L312.2,358.3L313.2,357.5L314.2,357.0L315.2,356.5L316.2,356.0L317.2,355.6L318.2,355.2L319.2,354.7L320.2,354.1L321.2,353.8L322.2,353.3L323.2,353.1L324.2,353.2L325.2,353.3L326.2,353.3L327.2,353.8L328.2,354.2L329.2,354.5L330.2,355.0L331.2,355.5L332.2,355.7L333.2,356.0L334.2,356.4L335.2,356.8L336.2,357.2L337.2,357.7L338.2,358.1L339.2,358.5L340.2,358.9L341.2,359.4L342.2,360.0L343.2,360.4L344.2,361.0L345.2,361.6L346.2,362.0L347.2,362.5L348.2,363.0L349.2,363.6L350.2,364.0L351.2,364.5L352.2,365.0L353.2,365.7L354.2,366.2L355.2,366.9L356.2,367.7L357.2,368.3L358.2,369.1L359.2,369.9L360.2,370.8L361.2,371.9L362.2,373.3L363.2,374.5L364.2,376.0L365.2,377.2L366.2,378.5L367.2,379.8L368.2,381.1L369.2,382.3L370.2,383.7L371.2,385.0L372.2,386.3L373.2,387.8L374.2,389.2L375.2,390.8L376.2,392.3L377.2,393.7L378.2,395.4L379.2,397.0L380.2,398.6L381.2,400.4L382.2,402.3L383.2,404.1L384.2,405.9L385.2,407.7L386.2,409.6L387.2,411.5L388.2,413.4L389.2,415.2L390.2,417.3L391.2,419.2L392.2,421.1L393.2,422.8L394.2,424.8L395.2,426.5L396.2,428.4L397.2,430.3L398.2,432.3L399.2,434.3L400.2,436.6L401.2,438.7L402.2,441.0L403.2,443.4L404.2,446.0L405.2,448.5L406.2,451.2L407.2,453.9L408.2,456.6L409.2,459.3L410.2,461.8L411.2,464.2L412.2,466.7L413.2,469.2L414.2,471.5L415.2,473.9L416.2,476.4L417.2,478.8L418.2,481.2L419.2,483.4L420.2,485.7L421.2,487.8L422.2,489.8L423.2,491.7L424.2,493.6L425.2,495.5L425.3,497.3" stroke="#b4b4b4" stroke-width="1.2" fill="none" stroke-linejoin="round"/>
<path d="M65.2,489.0L66.2,490.6L67.2,492.1L68.2,493.8L69.2,495.1L70.2,496.7L71.2,498.5L72.2,500.1L73.2,501.7L74.2,503.5L75.2,505.0L76.2,506.4L77.2,507.8L78.2,509.1L79.2,510.3L80.2,511.6L81.2,512.8L82.2,513.7L83.2,514.6L84.2,515.3L85.2,516.0L86.2,516.7L87.2,517.5L88.2,518.5L89.2,519.3L90.2,520.0L91.2,520.8L92.2,521.6L93.2,522.1L94.2,522.8L95.2,523.4L96.2,523.9L97.2,524.6L98.2,525.3L99.2,525.9L100.2,526.5L101.2,527.0L102.2,527.4L103.2,527.9L104.2,528.5L105.2,528.6L106.2,529.0L107.2,529.6L108.2,530.1L109.2,530.5L110.2,531.0L111.2,531.4L112.2,531.5L113.2,531.5L114.2,531.4L115.2,531.6L116.2,531.6L117.2,531.7L118.2,531.7L119.2,531.3L120.2,530.8L121.2,530.4L122.2,529.9L123.2,529.4L124.2,529.1L125.2,528.3L126.2,527.9L127.2,527.1L128.2,526.3L129.2,525.7L130.2,525.2L131.2,524.6L132.2,523.9L133.2,523.4L134.2,522.7L135.2,521.9L136.2,521.1L137.2,520.2L138.2,519.3L139.2,518.2L140.2,517.4L141.2,516.3L142.2,515.3L143.2,514.3L144.2,512.9L145.2,511.5L146.2,510.1L147.2,508.7L148.2,507.0L149.2,505.7L150.2,504.2L151.2,502.7L152.2,500.9L153.2,499.5L154.2,497.8L155.2,496.0L156.2,494.5L157.2,492.8L158.2,491.2L159.2,489.5L160.2,488.0L161.2,486.0L162.2,484.3L163.2,482.4L164.2,480.9L165.2,479.2L166.2,478.1L167.2,476.5L168.2,475.3L169.2,474.0L170.2,472.7L171.2,471.0L172.2,470.0L173.2,468.6L174.2,467.2L175.2,465.9L176.2,464.8L177.2,463.3L178.2,462.2L179.2,461.0L180.2,460.0L181.2,458.8L182.2,457.8L183.2,456.6L184.2,455.4L185.2,454.2L186.2,453.2L187.2,452.0L188.2,451.2L189.2,450.3L190.2,449.5L191.2,448.5L192.2,447.8L193.2,447.0L194.2,446.2L195.2,445.3L196.2,444.4L197.2,443.4L198.2,442.4L199.2,441.2L200.2,440.0L201.2,439.0L202.2,437.8L203.2,436.6L204.2,435.4L205.2,434.3L206.2,432.9L207.2,431.7L208.2,430.4L209.2,429.2L210.2,427.7L211.2,426.4L212.2,425.0L213.2,423.8L214.2,422.6L215.2,421.3L216.2,420.3L217.2,419.1L218.2,417.6L219.2,416.4L220.2,415.3L221.2,414.1L222.2,413.0L223.2,411.8L224.2,410.5L225.2,409.3L226.2,408.1L227.2,406.6L228.2,405.4L229.2,404.2L230.2,402.8L231.2,401.5L232.2,400.3L233.2,398.8L234.2,397.3L235.2,396.0L236.2,394.5L237.2,393.4L238.2,392.3L239.2,391.1L240.2,389.9L241.2,388.6L242.2,387.3L243.2,386.2L244.2,385.3L245.2,384.5L246.2,384.1L247.2,384.0L248.2,384.0L249.2,384.0L250.2,383.9L251.2,383.8L252.2,383.3L253.2,383.0L254.2,382.7L255.2,382.4L256.2,381.6L257.2,380.9L258.2,379.8L259.2,378.7L260.2,377.6L261.2,376.4L262.2,375.2L263.2,374.2L264.2,373.2L265.2,372.2L266.2,371.5L267.2,370.6L268.2,369.8L269.2,368.9L270.2,368.3L271.2,367.5L272.2,366.7L273.2,366.1L274.2,365.5L275.2,364.7L276.2,363.9L277.2,363.2L278.2,362.4L279.2,361.4L280.2,360.5L281.2,359.7L282.2,359.1L283.2,358.4L284.2,357.8L285.2,357.0L286.2,356.7L287.2,356.4L288.2,356.5L289.2,356.3L290.2,356.3L291.2,356.2L292.2,356.1L293.2,355.8L294.2,356.1L295.2,356.3L296.2,356.6L297.2,356.7L298.2,357.0L299.2,357.3L300.2,357.5L301.2,357.6L302.2,357.6L303.2,357.7L304.2,357.3L305.2,356.9L306.2,356.5L307.2,356.2L308.2,355.6L309.2,355.3L310.2,354.7L311.2,354.1L312.2,353.5L313.2,353.0L314.2,352.1L315.2,351.5L316.2,350.8L317.2,349.9L318.2,349.1L319.2,348.4L320.2,347.9L321.2,347.6L322.2,347.3L323.2,347.2L324.2,347.3L325.2,347.3L326.2,347.7L327.2,348.4L328.2,349.0L329.2,349.8L330.2,350.4L331.2,350.8L332.2,351.0L333.2,351.4L334.2,351.6L335.2,352.3L336.2,352.6L337.2,353.2L338.2,353.7L339.2,354.6L340.2,355.1L341.2,355.8L342.2,356.6L343.2,357.4L344.2,358.0L345.2,358.7L346.2,359.5L347.2,359.9L348.2,360.5L349.2,361.0L350.2,361.6L351.2,362.1L352.2,362.8L353.2,363.3L354.2,364.3L355.2,365.0L356.2,365.7L357.2,366.6L358.2,367.3L359.2,368.0L360.2,368.7L361.2,369.5L362.2,370.4L363.2,371.4L364.2,372.2L365.2,373.4L366.2,374.4L367.2,375.3L368.2,376.3L369.2,377.5L370.2,378.6L371.2,380.1L372.2,381.7L373.2,383.4L374.2,385.0L375.2,386.6L376.2,388.0L377.2,389.3L378.2,390.7L379.2,392.3L380.2,393.9L381.2,395.6L382.2,397.4L383.2,398.9L384.2,400.6L385.2,402.2L386.2,403.9L387.2,405.6L388.2,407.6L389.2,409.6L390.2,411.7L391.2,413.6L392.2,415.7L393.2,417.6L394.2,419.3L395.2,421.0L396.2,422.8L397.2,424.5L398.2,426.2L399.2,427.6L400.2,429.3L401.2,430.8L402.2,432.4L403.2,434.0L404.2,436.1L405.2,438.2L406.2,440.5L407.2,442.7L408.2,445.2L409.2,447.5L410.2,450.0L411.2,452.2L412.2,454.6L413.2,456.8L414.2,458.7L415.2,460.7L416.2,462.6L417.2,464.4L418.2,466.1L419.2,467.9L420.2,469.5L421.2,471.2L422.2,473.0L423.2,474.6L424.2,476.1L425.2,477.4L425.3,478.6" stroke="#6a6a6a" stroke-width="1.15" fill="none" stroke-linejoin="round"/>
<path d="M65.2,502.9L66.2,504.2L67.2,505.6L68.2,506.9L69.2,508.2L70.2,509.5L71.2,510.9L72.2,512.2L73.2,513.5L74.2,514.8L75.2,516.2L76.2,517.5L77.2,518.7L78.2,519.9L79.2,521.1L80.2,522.1L81.2,523.0L82.2,523.8L83.2,524.5L84.2,525.2L85.2,525.9L86.2,526.5L87.2,527.2L88.2,527.8L89.2,528.4L90.2,529.1L91.2,529.7L92.2,530.3L93.2,530.9L94.2,531.4L95.2,531.9L96.2,532.3L97.2,532.7L98.2,533.1L99.2,533.4L100.2,533.7L101.2,534.0L102.2,534.3L103.2,534.6L104.2,534.9L105.2,535.2L106.2,535.5L107.2,535.8L108.2,536.1L109.2,536.4L110.2,536.7L111.2,536.9L112.2,537.0L113.2,537.1L114.2,537.1L115.2,537.1L116.2,537.0L117.2,536.8L118.2,536.6L119.2,536.4L120.2,536.2L121.2,535.9L122.2,535.6L123.2,535.2L124.2,534.8L125.2,534.5L126.2,534.1L127.2,533.7L128.2,533.3L129.2,532.9L130.2,532.5L131.2,532.0L132.2,531.5L133.2,531.0L134.2,530.5L135.2,529.9L136.2,529.2L137.2,528.6L138.2,527.9L139.2,527.3L140.2,526.6L141.2,525.9L142.2,525.3L143.2,524.6L144.2,523.8L145.2,523.0L146.2,522.2L147.2,521.3L148.2,520.3L149.2,519.3L150.2,518.3L151.2,517.3L152.2,516.3L153.2,515.2L154.2,514.2L155.2,513.1L156.2,512.1L157.2,511.0L158.2,510.0L159.2,508.9L160.2,507.8L161.2,506.7L162.2,505.7L163.2,504.6L164.2,503.5L165.2,502.4L166.2,501.3L167.2,500.2L168.2,499.1L169.2,498.0L170.2,496.9L171.2,495.8L172.2,494.8L173.2,493.7L174.2,492.7L175.2,491.6L176.2,490.5L177.2,489.5L178.2,488.3L179.2,487.2L180.2,485.9L181.2,484.7L182.2,483.3L183.2,481.9L184.2,480.5L185.2,479.1L186.2,477.6L187.2,476.2L188.2,474.8L189.2,473.3L190.2,471.9L191.2,470.4L192.2,469.0L193.2,467.6L194.2,466.1L195.2,464.7L196.2,463.3L197.2,461.9L198.2,460.5L199.2,459.1L200.2,457.8L201.2,456.6L202.2,455.4L203.2,454.2L204.2,453.0L205.2,451.9L206.2,450.7L207.2,449.5L208.2,448.4L209.2,447.2L210.2,446.1L211.2,444.9L212.2,443.8L213.2,442.6L214.2,441.5L215.2,440.3L216.2,439.2L217.2,438.1L218.2,436.9L219.2,435.7L220.2,434.6L221.2,433.4L222.2,432.2L223.2,431.0L224.2,429.8L225.2,428.6L226.2,427.4L227.2,426.2L228.2,425.0L229.2,423.8L230.2,422.6L231.2,421.4L232.2,420.2L233.2,419.0L234.2,417.9L235.2,416.7L236.2,415.6L237.2,414.4L238.2,413.3L239.2,412.2L240.2,411.1L241.2,410.0L242.2,408.9L243.2,407.8L244.2,406.8L245.2,405.8L246.2,404.9L247.2,403.9L248.2,403.0L249.2,402.0L250.2,401.0L251.2,400.0L252.2,399.0L253.2,398.0L254.2,397.0L255.2,396.1L256.2,395.1L257.2,394.1L258.2,393.2L259.2,392.2L260.2,391.3L261.2,390.4L262.2,389.5L263.2,388.7L264.2,387.9L265.2,387.2L266.2,386.5L267.2,385.8L268.2,385.1L269.2,384.5L270.2,383.8L271.2,383.1L272.2,382.5L273.2,381.8L274.2,381.2L275.2,380.6L276.2,379.9L277.2,379.3L278.2,378.7L279.2,378.1L280.2,377.5L281.2,376.9L282.2,376.4L283.2,375.8L284.2,375.2L285.2,374.6L286.2,374.1L287.2,373.6L288.2,373.1L289.2,372.7L290.2,372.4L291.2,372.2L292.2,371.9L293.2,371.8L294.2,371.6L295.2,371.5L296.2,371.3L297.2,371.2L298.2,371.0L299.2,370.9L300.2,370.7L301.2,370.6L302.2,370.4L303.2,370.3L304.2,370.1L305.2,370.0L306.2,369.8L307.2,369.7L308.2,369.5L309.2,369.3L310.2,369.2L311.2,368.9L312.2,368.7L313.2,368.5L314.2,368.2L315.2,368.0L316.2,367.7L317.2,367.5L318.2,367.3L319.2,367.2L320.2,367.1L321.2,367.1L322.2,367.2L323.2,367.3L324.2,367.4L325.2,367.6L326.2,367.8L327.2,368.0L328.2,368.3L329.2,368.6L330.2,368.8L331.2,369.1L332.2,369.4L333.2,369.6L334.2,369.8L335.2,369.9L336.2,370.0L337.2,370.2L338.2,370.3L339.2,370.5L340.2,370.8L341.2,371.0L342.2,371.3L343.2,371.7L344.2,372.0L345.2,372.4L346.2,372.7L347.2,373.1L348.2,373.4L349.2,373.8L350.2,374.2L351.2,374.7L352.2,375.1L353.2,375.6L354.2,376.1L355.2,376.7L356.2,377.3L357.2,377.9L358.2,378.5L359.2,379.1L360.2,379.8L361.2,380.4L362.2,381.1L363.2,381.8L364.2,382.6L365.2,383.3L366.2,384.2L367.2,385.1L368.2,386.0L369.2,387.0L370.2,388.0L371.2,389.0L372.2,390.1L373.2,391.2L374.2,392.3L375.2,393.5L376.2,394.7L377.2,396.0L378.2,397.4L379.2,398.8L380.2,400.3L381.2,401.8L382.2,403.5L383.2,405.2L384.2,406.9L385.2,408.8L386.2,410.7L387.2,412.5L388.2,414.5L389.2,416.4L390.2,418.3L391.2,420.2L392.2,422.1L393.2,424.0L394.2,425.9L395.2,427.8L396.2,429.7L397.2,431.6L398.2,433.5L399.2,435.5L400.2,437.6L401.2,439.8L402.2,442.2L403.2,444.6L404.2,447.2L405.2,449.8L406.2,452.4L407.2,455.1L408.2,457.7L409.2,460.3L410.2,462.9L411.2,465.5L412.2,467.9L413.2,470.4L414.2,472.8L415.2,475.1L416.2,477.5L417.2,479.8L418.2,482.2L419.2,484.5L420.2,486.8L421.2,489.0L422.2,491.2L423.2,493.3L424.2,495.2L425.2,497.0L425.3,498.7" stroke="#dd7f2a" stroke-width="1.3" fill="none" stroke-linejoin="round"/>
<path d="M65.2,504.1L66.2,505.4L67.2,506.7L68.2,508.0L69.2,509.4L70.2,510.7L71.2,512.0L72.2,513.3L73.2,514.6L74.2,515.9L75.2,517.2L76.2,518.5L77.2,519.8L78.2,521.0L79.2,522.1L80.2,523.1L81.2,524.0L82.2,524.8L83.2,525.5L84.2,526.2L85.2,526.8L86.2,527.4L87.2,528.1L88.2,528.7L89.2,529.3L90.2,529.9L91.2,530.6L92.2,531.1L93.2,531.7L94.2,532.2L95.2,532.7L96.2,533.1L97.2,533.5L98.2,533.8L99.2,534.2L100.2,534.5L101.2,534.8L102.2,535.0L103.2,535.3L104.2,535.6L105.2,535.9L106.2,536.2L107.2,536.5L108.2,536.8L109.2,537.0L110.2,537.3L111.2,537.4L112.2,537.5L113.2,537.6L114.2,537.5L115.2,537.4L116.2,537.2L117.2,537.0L118.2,536.8L119.2,536.5L120.2,536.1L121.2,535.8L122.2,535.3L123.2,534.9L124.2,534.4L125.2,533.9L126.2,533.4L127.2,532.9L128.2,532.4L129.2,531.9L130.2,531.4L131.2,530.8L132.2,530.2L133.2,529.5L134.2,528.8L135.2,527.9L136.2,527.1L137.2,526.2L138.2,525.3L139.2,524.4L140.2,523.5L141.2,522.6L142.2,521.7L143.2,520.7L144.2,519.8L145.2,518.8L146.2,517.7L147.2,516.7L148.2,515.6L149.2,514.5L150.2,513.3L151.2,512.2L152.2,511.1L153.2,509.9L154.2,508.8L155.2,507.6L156.2,506.5L157.2,505.4L158.2,504.2L159.2,503.1L160.2,502.0L161.2,500.9L162.2,499.9L163.2,498.8L164.2,497.7L165.2,496.7L166.2,495.6L167.2,494.5L168.2,493.5L169.2,492.4L170.2,491.4L171.2,490.3L172.2,489.3L173.2,488.3L174.2,487.4L175.2,486.4L176.2,485.4L177.2,484.4L178.2,483.4L179.2,482.3L180.2,481.1L181.2,479.9L182.2,478.6L183.2,477.2L184.2,475.9L185.2,474.5L186.2,473.1L187.2,471.7L188.2,470.3L189.2,468.9L190.2,467.5L191.2,466.1L192.2,464.7L193.2,463.2L194.2,461.8L195.2,460.4L196.2,459.1L197.2,457.7L198.2,456.3L199.2,455.0L200.2,453.8L201.2,452.6L202.2,451.4L203.2,450.3L204.2,449.3L205.2,448.2L206.2,447.1L207.2,446.0L208.2,445.0L209.2,443.9L210.2,442.9L211.2,441.8L212.2,440.7L213.2,439.7L214.2,438.6L215.2,437.6L216.2,436.5L217.2,435.4L218.2,434.4L219.2,433.3L220.2,432.3L221.2,431.2L222.2,430.2L223.2,429.1L224.2,428.1L225.2,427.0L226.2,426.0L227.2,424.9L228.2,423.8L229.2,422.8L230.2,421.7L231.2,420.6L232.2,419.5L233.2,418.4L234.2,417.3L235.2,416.2L236.2,415.1L237.2,413.9L238.2,412.8L239.2,411.7L240.2,410.6L241.2,409.4L242.2,408.4L243.2,407.3L244.2,406.3L245.2,405.3L246.2,404.3L247.2,403.3L248.2,402.4L249.2,401.4L250.2,400.4L251.2,399.4L252.2,398.4L253.2,397.3L254.2,396.3L255.2,395.2L256.2,394.2L257.2,393.1L258.2,392.1L259.2,391.1L260.2,390.1L261.2,389.1L262.2,388.2L263.2,387.3L264.2,386.4L265.2,385.6L266.2,384.8L267.2,384.1L268.2,383.3L269.2,382.6L270.2,381.8L271.2,381.1L272.2,380.4L273.2,379.7L274.2,379.0L275.2,378.4L276.2,377.9L277.2,377.3L278.2,376.9L279.2,376.5L280.2,376.1L281.2,375.7L282.2,375.3L283.2,375.0L284.2,374.6L285.2,374.2L286.2,373.9L287.2,373.5L288.2,373.2L289.2,372.9L290.2,372.6L291.2,372.4L292.2,372.1L293.2,371.9L294.2,371.7L295.2,371.4L296.2,371.2L297.2,371.0L298.2,370.7L299.2,370.5L300.2,370.3L301.2,370.1L302.2,369.8L303.2,369.6L304.2,369.4L305.2,369.1L306.2,368.9L307.2,368.6L308.2,368.4L309.2,368.1L310.2,367.8L311.2,367.5L312.2,367.2L313.2,366.9L314.2,366.6L315.2,366.2L316.2,365.9L317.2,365.6L318.2,365.3L319.2,365.1L320.2,364.9L321.2,364.8L322.2,364.8L323.2,364.8L324.2,364.9L325.2,365.0L326.2,365.1L327.2,365.2L328.2,365.4L329.2,365.6L330.2,365.8L331.2,366.0L332.2,366.2L333.2,366.5L334.2,366.7L335.2,366.9L336.2,367.1L337.2,367.3L338.2,367.5L339.2,367.8L340.2,368.1L341.2,368.5L342.2,368.9L343.2,369.4L344.2,369.8L345.2,370.3L346.2,370.8L347.2,371.3L348.2,371.8L349.2,372.3L350.2,372.8L351.2,373.4L352.2,373.9L353.2,374.5L354.2,375.1L355.2,375.6L356.2,376.2L357.2,376.8L358.2,377.4L359.2,378.0L360.2,378.7L361.2,379.4L362.2,380.1L363.2,380.9L364.2,381.7L365.2,382.6L366.2,383.5L367.2,384.5L368.2,385.5L369.2,386.6L370.2,387.6L371.2,388.8L372.2,389.9L373.2,391.1L374.2,392.4L375.2,393.7L376.2,395.1L377.2,396.6L378.2,398.1L379.2,399.6L380.2,401.2L381.2,402.8L382.2,404.5L383.2,406.2L384.2,408.0L385.2,409.9L386.2,411.7L387.2,413.6L388.2,415.5L389.2,417.4L390.2,419.3L391.2,421.2L392.2,423.1L393.2,425.0L394.2,426.8L395.2,428.7L396.2,430.6L397.2,432.5L398.2,434.5L399.2,436.4L400.2,438.5L401.2,440.7L402.2,443.0L403.2,445.5L404.2,448.0L405.2,450.6L406.2,453.2L407.2,455.9L408.2,458.5L409.2,461.1L410.2,463.7L411.2,466.2L412.2,468.7L413.2,471.1L414.2,473.5L415.2,475.9L416.2,478.2L417.2,480.5L418.2,482.8L419.2,485.1L420.2,487.4L421.2,489.7L422.2,491.9L423.2,493.9L424.2,495.9L425.2,497.6L425.3,499.3" stroke="#229922" stroke-width="1.3" fill="none" stroke-linejoin="round"/>
<path d="M65.2,499.3L66.2,500.7L67.2,502.1L68.2,503.5L69.2,504.9L70.2,506.3L71.2,507.7L72.2,509.1L73.2,510.6L74.2,512.0L75.2,513.3L76.2,514.7L77.2,516.1L78.2,517.3L79.2,518.5L80.2,519.6L81.2,520.6L82.2,521.5L83.2,522.3L84.2,523.1L85.2,523.8L86.2,524.5L87.2,525.3L88.2,526.0L89.2,526.7L90.2,527.4L91.2,528.1L92.2,528.8L93.2,529.4L94.2,530.0L95.2,530.6L96.2,531.1L97.2,531.6L98.2,532.0L99.2,532.4L100.2,532.8L101.2,533.2L102.2,533.6L103.2,533.9L104.2,534.3L105.2,534.7L106.2,535.1L107.2,535.5L108.2,535.8L109.2,536.2L110.2,536.5L111.2,536.7L112.2,536.8L113.2,536.9L114.2,536.8L115.2,536.7L116.2,536.5L117.2,536.2L118.2,535.9L119.2,535.6L120.2,535.2L121.2,534.8L122.2,534.4L123.2,533.9L124.2,533.4L125.2,532.8L126.2,532.3L127.2,531.8L128.2,531.2L129.2,530.7L130.2,530.1L131.2,529.5L132.2,528.8L133.2,528.1L134.2,527.3L135.2,526.5L136.2,525.6L137.2,524.7L138.2,523.7L139.2,522.8L140.2,521.8L141.2,520.9L142.2,519.9L143.2,519.0L144.2,518.0L145.2,516.9L146.2,515.9L147.2,514.8L148.2,513.6L149.2,512.5L150.2,511.3L151.2,510.1L152.2,509.0L153.2,507.8L154.2,506.6L155.2,505.4L156.2,504.2L157.2,503.1L158.2,501.9L159.2,500.8L160.2,499.6L161.2,498.5L162.2,497.4L163.2,496.3L164.2,495.2L165.2,494.1L166.2,493.0L167.2,491.9L168.2,490.8L169.2,489.7L170.2,488.6L171.2,487.5L172.2,486.5L173.2,485.5L174.2,484.4L175.2,483.4L176.2,482.4L177.2,481.4L178.2,480.3L179.2,479.2L180.2,478.0L181.2,476.7L182.2,475.4L183.2,474.0L184.2,472.6L185.2,471.1L186.2,469.7L187.2,468.3L188.2,466.8L189.2,465.4L190.2,464.0L191.2,462.5L192.2,461.1L193.2,459.6L194.2,458.2L195.2,456.8L196.2,455.3L197.2,453.9L198.2,452.5L199.2,451.1L200.2,449.8L201.2,448.5L202.2,447.2L203.2,446.0L204.2,444.7L205.2,443.5L206.2,442.3L207.2,441.1L208.2,439.9L209.2,438.7L210.2,437.4L211.2,436.2L212.2,435.0L213.2,433.8L214.2,432.6L215.2,431.4L216.2,430.2L217.2,429.0L218.2,427.8L219.2,426.5L220.2,425.3L221.2,424.1L222.2,422.9L223.2,421.7L224.2,420.5L225.2,419.3L226.2,418.1L227.2,416.9L228.2,415.7L229.2,414.5L230.2,413.3L231.2,412.1L232.2,410.9L233.2,409.8L234.2,408.7L235.2,407.6L236.2,406.6L237.2,405.6L238.2,404.5L239.2,403.5L240.2,402.5L241.2,401.5L242.2,400.6L243.2,399.6L244.2,398.7L245.2,397.8L246.2,397.0L247.2,396.1L248.2,395.3L249.2,394.4L250.2,393.5L251.2,392.6L252.2,391.6L253.2,390.6L254.2,389.6L255.2,388.6L256.2,387.6L257.2,386.6L258.2,385.5L259.2,384.5L260.2,383.5L261.2,382.6L262.2,381.7L263.2,380.8L264.2,380.0L265.2,379.3L266.2,378.5L267.2,377.9L268.2,377.2L269.2,376.5L270.2,375.8L271.2,375.2L272.2,374.5L273.2,373.9L274.2,373.3L275.2,372.7L276.2,372.2L277.2,371.7L278.2,371.3L279.2,370.9L280.2,370.5L281.2,370.1L282.2,369.7L283.2,369.4L284.2,369.0L285.2,368.6L286.2,368.3L287.2,367.9L288.2,367.6L289.2,367.3L290.2,367.0L291.2,366.8L292.2,366.5L293.2,366.3L294.2,366.1L295.2,365.8L296.2,365.6L297.2,365.4L298.2,365.3L299.2,365.1L300.2,364.9L301.2,364.8L302.2,364.6L303.2,364.4L304.2,364.3L305.2,364.1L306.2,364.0L307.2,363.8L308.2,363.6L309.2,363.5L310.2,363.3L311.2,363.1L312.2,362.9L313.2,362.7L314.2,362.5L315.2,362.3L316.2,362.1L317.2,361.9L318.2,361.8L319.2,361.6L320.2,361.5L321.2,361.5L322.2,361.4L323.2,361.4L324.2,361.4L325.2,361.4L326.2,361.4L327.2,361.4L328.2,361.5L329.2,361.6L330.2,361.7L331.2,361.9L332.2,362.0L333.2,362.2L334.2,362.4L335.2,362.6L336.2,362.8L337.2,363.0L338.2,363.3L339.2,363.6L340.2,364.0L341.2,364.4L342.2,364.8L343.2,365.3L344.2,365.8L345.2,366.3L346.2,366.7L347.2,367.2L348.2,367.8L349.2,368.3L350.2,368.8L351.2,369.3L352.2,369.9L353.2,370.4L354.2,371.0L355.2,371.5L356.2,372.1L357.2,372.7L358.2,373.3L359.2,374.0L360.2,374.7L361.2,375.5L362.2,376.4L363.2,377.3L364.2,378.3L365.2,379.3L366.2,380.4L367.2,381.5L368.2,382.7L369.2,383.9L370.2,385.1L371.2,386.4L372.2,387.7L373.2,389.1L374.2,390.4L375.2,391.9L376.2,393.3L377.2,394.9L378.2,396.4L379.2,398.0L380.2,399.6L381.2,401.2L382.2,402.9L383.2,404.7L384.2,406.5L385.2,408.3L386.2,410.2L387.2,412.1L388.2,414.1L389.2,416.0L390.2,417.9L391.2,419.8L392.2,421.7L393.2,423.6L394.2,425.5L395.2,427.4L396.2,429.3L397.2,431.3L398.2,433.2L399.2,435.3L400.2,437.4L401.2,439.6L402.2,441.9L403.2,444.4L404.2,446.9L405.2,449.6L406.2,452.2L407.2,454.9L408.2,457.5L409.2,460.2L410.2,462.8L411.2,465.3L412.2,467.8L413.2,470.3L414.2,472.7L415.2,475.0L416.2,477.4L417.2,479.7L418.2,482.1L419.2,484.4L420.2,486.7L421.2,489.0L422.2,491.2L423.2,493.3L424.2,495.2L425.2,497.0L425.3,498.7" stroke="#8a28bb" stroke-width="1.6" fill="none" stroke-linejoin="round"/>
<path d="M65.2,501.1L66.2,502.5L67.2,503.8L68.2,505.2L69.2,506.5L70.2,507.9L71.2,509.2L72.2,510.6L73.2,511.9L74.2,513.3L75.2,514.6L76.2,515.9L77.2,517.2L78.2,518.5L79.2,519.6L80.2,520.7L81.2,521.6L82.2,522.4L83.2,523.2L84.2,523.9L85.2,524.6L86.2,525.3L87.2,525.9L88.2,526.6L89.2,527.2L90.2,527.9L91.2,528.6L92.2,529.2L93.2,529.8L94.2,530.4L95.2,530.9L96.2,531.3L97.2,531.7L98.2,532.1L99.2,532.5L100.2,532.8L101.2,533.1L102.2,533.5L103.2,533.8L104.2,534.1L105.2,534.5L106.2,534.8L107.2,535.1L108.2,535.4L109.2,535.7L110.2,536.0L111.2,536.2L112.2,536.3L113.2,536.3L114.2,536.3L115.2,536.2L116.2,536.0L117.2,535.8L118.2,535.6L119.2,535.3L120.2,534.9L121.2,534.6L122.2,534.1L123.2,533.7L124.2,533.2L125.2,532.7L126.2,532.2L127.2,531.7L128.2,531.2L129.2,530.7L130.2,530.2L131.2,529.6L132.2,529.0L133.2,528.3L134.2,527.6L135.2,526.7L136.2,525.9L137.2,525.0L138.2,524.1L139.2,523.2L140.2,522.3L141.2,521.4L142.2,520.5L143.2,519.5L144.2,518.6L145.2,517.6L146.2,516.5L147.2,515.5L148.2,514.4L149.2,513.3L150.2,512.1L151.2,511.0L152.2,509.9L153.2,508.7L154.2,507.6L155.2,506.4L156.2,505.3L157.2,504.2L158.2,503.0L159.2,501.9L160.2,500.8L161.2,499.7L162.2,498.6L163.2,497.5L164.2,496.4L165.2,495.3L166.2,494.2L167.2,493.1L168.2,492.0L169.2,490.9L170.2,489.9L171.2,488.8L172.2,487.8L173.2,486.7L174.2,485.7L175.2,484.7L176.2,483.7L177.2,482.7L178.2,481.6L179.2,480.5L180.2,479.3L181.2,478.0L182.2,476.7L183.2,475.3L184.2,473.9L185.2,472.5L186.2,471.1L187.2,469.7L188.2,468.2L189.2,466.8L190.2,465.4L191.2,463.9L192.2,462.5L193.2,461.1L194.2,459.6L195.2,458.2L196.2,456.8L197.2,455.4L198.2,454.0L199.2,452.6L200.2,451.3L201.2,450.0L202.2,448.7L203.2,447.5L204.2,446.2L205.2,445.0L206.2,443.8L207.2,442.6L208.2,441.4L209.2,440.2L210.2,439.0L211.2,437.8L212.2,436.6L213.2,435.4L214.2,434.1L215.2,432.9L216.2,431.7L217.2,430.5L218.2,429.3L219.2,428.1L220.2,426.9L221.2,425.7L222.2,424.5L223.2,423.3L224.2,422.1L225.2,420.9L226.2,419.7L227.2,418.5L228.2,417.3L229.2,416.1L230.2,415.0L231.2,413.8L232.2,412.6L233.2,411.5L234.2,410.4L235.2,409.3L236.2,408.3L237.2,407.3L238.2,406.3L239.2,405.3L240.2,404.3L241.2,403.3L242.2,402.3L243.2,401.4L244.2,400.5L245.2,399.6L246.2,398.8L247.2,397.9L248.2,397.1L249.2,396.2L250.2,395.3L251.2,394.4L252.2,393.5L253.2,392.5L254.2,391.5L255.2,390.5L256.2,389.5L257.2,388.5L258.2,387.5L259.2,386.5L260.2,385.6L261.2,384.6L262.2,383.7L263.2,382.9L264.2,382.1L265.2,381.4L266.2,380.7L267.2,380.0L268.2,379.4L269.2,378.7L270.2,378.1L271.2,377.4L272.2,376.8L273.2,376.2L274.2,375.6L275.2,375.0L276.2,374.5L277.2,374.1L278.2,373.7L279.2,373.3L280.2,372.9L281.2,372.6L282.2,372.2L283.2,371.9L284.2,371.5L285.2,371.2L286.2,370.8L287.2,370.5L288.2,370.2L289.2,369.9L290.2,369.7L291.2,369.4L292.2,369.2L293.2,369.0L294.2,368.7L295.2,368.5L296.2,368.3L297.2,368.1L298.2,367.9L299.2,367.7L300.2,367.5L301.2,367.3L302.2,367.0L303.2,366.8L304.2,366.6L305.2,366.4L306.2,366.2L307.2,366.0L308.2,365.8L309.2,365.5L310.2,365.3L311.2,365.1L312.2,364.8L313.2,364.6L314.2,364.3L315.2,364.1L316.2,363.8L317.2,363.6L318.2,363.4L319.2,363.2L320.2,363.0L321.2,362.9L322.2,362.8L323.2,362.7L324.2,362.7L325.2,362.7L326.2,362.7L327.2,362.7L328.2,362.7L329.2,362.8L330.2,362.9L331.2,363.1L332.2,363.2L333.2,363.4L334.2,363.6L335.2,363.8L336.2,364.0L337.2,364.2L338.2,364.5L339.2,364.8L340.2,365.2L341.2,365.6L342.2,366.0L343.2,366.4L344.2,366.9L345.2,367.4L346.2,367.8L347.2,368.3L348.2,368.8L349.2,369.3L350.2,369.8L351.2,370.3L352.2,370.8L353.2,371.4L354.2,371.9L355.2,372.4L356.2,373.0L357.2,373.5L358.2,374.2L359.2,374.8L360.2,375.5L361.2,376.3L362.2,377.1L363.2,378.0L364.2,379.0L365.2,380.0L366.2,381.0L367.2,382.2L368.2,383.3L369.2,384.5L370.2,385.8L371.2,387.0L372.2,388.3L373.2,389.6L374.2,391.0L375.2,392.4L376.2,393.9L377.2,395.4L378.2,396.9L379.2,398.5L380.2,400.1L381.2,401.7L382.2,403.4L383.2,405.1L384.2,406.9L385.2,408.8L386.2,410.7L387.2,412.5L388.2,414.5L389.2,416.4L390.2,418.3L391.2,420.2L392.2,422.1L393.2,424.0L394.2,425.9L395.2,427.8L396.2,429.7L397.2,431.6L398.2,433.5L399.2,435.5L400.2,437.6L401.2,439.8L402.2,442.2L403.2,444.6L404.2,447.2L405.2,449.8L406.2,452.4L407.2,455.1L408.2,457.7L409.2,460.3L410.2,462.9L411.2,465.5L412.2,467.9L413.2,470.4L414.2,472.8L415.2,475.1L416.2,477.5L417.2,479.8L418.2,482.2L419.2,484.5L420.2,486.8L421.2,489.0L422.2,491.2L423.2,493.3L424.2,495.2L425.2,497.0L425.3,498.7" stroke="#1818cc" stroke-width="1.5" fill="none" stroke-linejoin="round"/>
<path d="M65.2,526.2L66.2,527.0L67.2,527.5L68.2,527.8L69.2,528.4L70.2,529.2L71.2,529.6L72.2,530.1L73.2,530.9L74.2,531.4L75.2,531.8L76.2,532.4L77.2,533.1L78.2,533.6L79.2,534.1L80.2,534.7L81.2,535.4L82.2,536.0L83.2,536.7L84.2,537.4L85.2,537.9L86.2,538.5L87.2,539.1L88.2,539.5L89.2,540.0L90.2,540.5L91.2,541.0L92.2,541.5L93.2,541.8L94.2,542.3L95.2,542.7L96.2,543.1L97.2,543.5L98.2,543.8L99.2,544.1L100.2,544.3L101.2,544.7L102.2,545.1L103.2,545.5L104.2,545.9L105.2,546.2L106.2,546.4L107.2,546.7L108.2,546.9L109.2,547.3L110.2,547.5L111.2,547.6L112.2,547.6L113.2,547.6L114.2,547.6L115.2,547.6L116.2,547.7L117.2,547.9L118.2,547.8L119.2,547.7L120.2,547.5L121.2,547.2L122.2,547.1L123.2,547.1L124.2,546.7L125.2,546.6L126.2,546.5L127.2,546.1L128.2,545.7L129.2,545.5L130.2,545.3L131.2,544.9L132.2,544.3L133.2,543.9L134.2,543.5L135.2,542.8L136.2,542.3L137.2,541.9L138.2,541.4L139.2,540.7L140.2,540.2L141.2,539.3L142.2,538.5L143.2,537.6L144.2,536.6L145.2,535.4L146.2,534.5L147.2,533.3L148.2,532.3L149.2,531.1L150.2,530.1L151.2,528.8L152.2,527.7L153.2,526.3L154.2,525.1L155.2,524.1L156.2,523.0L157.2,521.8L158.2,520.9L159.2,519.7L160.2,518.3L161.2,517.1L162.2,515.7L163.2,514.4L164.2,513.3L165.2,512.1L166.2,511.1L167.2,510.0L168.2,509.0L169.2,508.0L170.2,507.1L171.2,506.2L172.2,505.0L173.2,504.1L174.2,503.0L175.2,501.8L176.2,500.7L177.2,499.7L178.2,498.6L179.2,497.7L180.2,496.7L181.2,495.6L182.2,494.6L183.2,493.5L184.2,492.2L185.2,491.0L186.2,489.6L187.2,488.4L188.2,487.3L189.2,486.4L190.2,485.2L191.2,484.3L192.2,483.1L193.2,482.0L194.2,480.6L195.2,479.7L196.2,478.4L197.2,477.4L198.2,476.3L199.2,475.4L200.2,474.0L201.2,472.9L202.2,471.8L203.2,470.8L204.2,469.5L205.2,468.6L206.2,467.6L207.2,466.7L208.2,465.6L209.2,464.5L210.2,463.5L211.2,462.4L212.2,461.3L213.2,460.4L214.2,459.6L215.2,458.7L216.2,458.1L217.2,457.3L218.2,456.4L219.2,455.6L220.2,454.8L221.2,453.8L222.2,452.9L223.2,452.0L224.2,451.3L225.2,450.4L226.2,449.6L227.2,448.7L228.2,447.9L229.2,447.2L230.2,446.5L231.2,445.5L232.2,444.6L233.2,443.8L234.2,442.7L235.2,441.5L236.2,440.4L237.2,439.3L238.2,438.3L239.2,437.3L240.2,436.4L241.2,435.7L242.2,434.8L243.2,433.9L244.2,433.2L245.2,432.4L246.2,431.9L247.2,431.6L248.2,430.9L249.2,430.6L250.2,430.0L251.2,429.2L252.2,428.4L253.2,427.4L254.2,425.9L255.2,424.8L256.2,423.6L257.2,422.2L258.2,420.9L259.2,419.8L260.2,418.3L261.2,416.9L262.2,415.7L263.2,414.7L264.2,413.5L265.2,412.6L266.2,412.1L267.2,411.2L268.2,410.2L269.2,409.6L270.2,409.0L271.2,408.2L272.2,407.6L273.2,406.9L274.2,406.1L275.2,405.1L276.2,404.6L277.2,403.7L278.2,403.2L279.2,402.7L280.2,402.2L281.2,401.3L282.2,401.0L283.2,400.1L284.2,399.4L285.2,398.7L286.2,398.5L287.2,397.8L288.2,397.5L289.2,396.9L290.2,396.5L291.2,395.9L292.2,395.4L293.2,394.6L294.2,394.2L295.2,393.3L296.2,392.4L297.2,391.5L298.2,390.6L299.2,389.6L300.2,388.8L301.2,388.0L302.2,387.3L303.2,386.8L304.2,386.2L305.2,385.7L306.2,385.1L307.2,384.5L308.2,384.0L309.2,383.5L310.2,383.0L311.2,382.8L312.2,382.7L313.2,382.5L314.2,382.7L315.2,383.1L316.2,383.5L317.2,384.0L318.2,384.3L319.2,384.7L320.2,384.9L321.2,385.1L322.2,385.1L323.2,385.4L324.2,385.2L325.2,385.0L326.2,384.7L327.2,384.8L328.2,384.6L329.2,384.8L330.2,384.7L331.2,384.9L332.2,384.7L333.2,384.7L334.2,384.5L335.2,384.7L336.2,384.8L337.2,385.2L338.2,385.6L339.2,386.1L340.2,386.7L341.2,387.2L342.2,387.6L343.2,388.3L344.2,389.0L345.2,389.6L346.2,390.3L347.2,390.9L348.2,391.4L349.2,392.1L350.2,392.6L351.2,393.2L352.2,393.8L353.2,394.5L354.2,395.1L355.2,395.6L356.2,396.2L357.2,396.8L358.2,397.4L359.2,398.2L360.2,399.1L361.2,399.9L362.2,400.6L363.2,401.3L364.2,401.8L365.2,402.4L366.2,403.0L367.2,403.8L368.2,404.6L369.2,405.4L370.2,405.9L370.6,406.7" stroke="#dc1c1c" stroke-width="2.1" fill="none" stroke-linejoin="round"/>
<path d="M370.2,76V132M370.2,370V421" stroke="#6a6a78" stroke-width="1.2" stroke-dasharray="5,3.5"/>
<rect x="65.2" y="53.5" width="360.1" height="252.0" fill="none" stroke="#000" stroke-width="2.1" stroke-linejoin="round"/>
<path d="M95.9,53.5v6.8M95.9,305.5v-6.8M123.6,53.5v6.8M123.6,305.5v-6.8M154.2,53.5v6.8M154.2,305.5v-6.8M183.9,53.5v6.8M183.9,305.5v-6.8M214.6,53.5v6.8M214.6,305.5v-6.8M244.3,53.5v6.8M244.3,305.5v-6.8M274.9,53.5v6.8M274.9,305.5v-6.8M305.6,53.5v6.8M305.6,305.5v-6.8M335.3,53.5v6.8M335.3,305.5v-6.8M365.9,53.5v6.8M365.9,305.5v-6.8M395.6,53.5v6.8M395.6,305.5v-6.8M65.2,293.5h3.4M425.3,293.5h-3.4M65.2,281.5h3.4M425.3,281.5h-3.4M65.2,269.5h3.4M425.3,269.5h-3.4M65.2,257.5h3.4M425.3,257.5h-3.4M65.2,245.5h6.8M425.3,245.5h-6.8M65.2,233.5h3.4M425.3,233.5h-3.4M65.2,221.5h3.4M425.3,221.5h-3.4M65.2,209.5h3.4M425.3,209.5h-3.4M65.2,197.5h3.4M425.3,197.5h-3.4M65.2,185.5h6.8M425.3,185.5h-6.8M65.2,173.5h3.4M425.3,173.5h-3.4M65.2,161.5h3.4M425.3,161.5h-3.4M65.2,149.5h3.4M425.3,149.5h-3.4M65.2,137.5h3.4M425.3,137.5h-3.4M65.2,125.5h6.8M425.3,125.5h-6.8M65.2,113.5h3.4M425.3,113.5h-3.4M65.2,101.5h3.4M425.3,101.5h-3.4M65.2,89.5h3.4M425.3,89.5h-3.4M65.2,77.5h3.4M425.3,77.5h-3.4M65.2,65.5h6.8M425.3,65.5h-6.8" stroke="#000" stroke-width="2" fill="none"/>
<rect x="65.2" y="311.5" width="360.1" height="252.0" fill="none" stroke="#000" stroke-width="2.1" stroke-linejoin="round"/>
<path d="M95.9,311.5v6.8M95.9,563.5v-6.8M123.6,311.5v6.8M123.6,563.5v-6.8M154.2,311.5v6.8M154.2,563.5v-6.8M183.9,311.5v6.8M183.9,563.5v-6.8M214.6,311.5v6.8M214.6,563.5v-6.8M244.3,311.5v6.8M244.3,563.5v-6.8M274.9,311.5v6.8M274.9,563.5v-6.8M305.6,311.5v6.8M305.6,563.5v-6.8M335.3,311.5v6.8M335.3,563.5v-6.8M365.9,311.5v6.8M365.9,563.5v-6.8M395.6,311.5v6.8M395.6,563.5v-6.8M65.2,551.5h3.4M425.3,551.5h-3.4M65.2,539.5h3.4M425.3,539.5h-3.4M65.2,527.5h3.4M425.3,527.5h-3.4M65.2,515.5h3.4M425.3,515.5h-3.4M65.2,503.5h6.8M425.3,503.5h-6.8M65.2,491.5h3.4M425.3,491.5h-3.4M65.2,479.5h3.4M425.3,479.5h-3.4M65.2,467.5h3.4M425.3,467.5h-3.4M65.2,455.5h3.4M425.3,455.5h-3.4M65.2,443.5h6.8M425.3,443.5h-6.8M65.2,431.5h3.4M425.3,431.5h-3.4M65.2,419.5h3.4M425.3,419.5h-3.4M65.2,407.5h3.4M425.3,407.5h-3.4M65.2,395.5h3.4M425.3,395.5h-3.4M65.2,383.5h6.8M425.3,383.5h-6.8M65.2,371.5h3.4M425.3,371.5h-3.4M65.2,359.5h3.4M425.3,359.5h-3.4M65.2,347.5h3.4M425.3,347.5h-3.4M65.2,335.5h3.4M425.3,335.5h-3.4M65.2,323.5h6.8M425.3,323.5h-6.8" stroke="#000" stroke-width="2" fill="none"/>
<path d="M87,100.6H110" stroke="#dd7f2a" stroke-width="1.4"/>
<path d="M87,112.5H110" stroke="#229922" stroke-width="1.4"/>
<path d="M87,124.4H110" stroke="#1818cc" stroke-width="1.4"/>
<path d="M87,136.3H110" stroke="#8a28bb" stroke-width="1.4"/>
<path d="M87,148.2H110" stroke="#b4b4b4" stroke-width="1.4"/>
<path d="M87,160.1H110" stroke="#6a6a6a" stroke-width="1.4"/>
<path d="M87,172.0H110" stroke="#dc1c1c" stroke-width="2.4"/>
<path d="M16.5,109.5Q24,103.1 31.75,109.25M16.5,169.25Q24,175.25 31.5,169.25M16.5,374.5Q24,368.1 31.75,374.25M16.5,434.25Q24,440.25 31.5,434.25" stroke="#151515" stroke-width="1.4" fill="none" stroke-linecap="round"/>
<text x="40.75" y="71.60" textLength="19.38" lengthAdjust="spacing" style="font-size:16px" fill="#2a2a2a" stroke="#2a2a2a" stroke-width="0.0">20</text>
<text x="42.5" y="131.40" textLength="17.67" lengthAdjust="spacing" style="font-size:16px" fill="#2a2a2a" stroke="#2a2a2a" stroke-width="0.0">15</text>
<text x="41.75" y="191.70" textLength="17.65" lengthAdjust="spacing" style="font-size:16px" fill="#2a2a2a" stroke="#2a2a2a" stroke-width="0.0">10</text>
<text x="50.25" y="251.80" textLength="9.92" lengthAdjust="spacing" style="font-size:16px" fill="#2a2a2a" stroke="#2a2a2a" stroke-width="0.0">5</text>
<text x="50.75" y="305.60" textLength="9.42" lengthAdjust="spacing" style="font-size:16px" fill="#2a2a2a" stroke="#2a2a2a" stroke-width="0.0">0</text>
<text x="41.5" y="329.30" textLength="18.39" lengthAdjust="spacing" style="font-size:16px" fill="#2a2a2a" stroke="#2a2a2a" stroke-width="0.0">20</text>
<text x="42.5" y="390.00" textLength="17.41" lengthAdjust="spacing" style="font-size:16px" fill="#2a2a2a" stroke="#2a2a2a" stroke-width="0.0">15</text>
<text x="42.75" y="449.80" textLength="16.41" lengthAdjust="spacing" style="font-size:16px" fill="#2a2a2a" stroke="#2a2a2a" stroke-width="0.0">10</text>
<text x="50.5" y="510.60" textLength="9.32" lengthAdjust="spacing" style="font-size:16px" fill="#2a2a2a" stroke="#2a2a2a" stroke-width="0.0">5</text>
<text x="50.5" y="564.70" textLength="9.32" lengthAdjust="spacing" style="font-size:16px" fill="#2a2a2a" stroke="#2a2a2a" stroke-width="0.0">0</text>
<text x="77.75" y="77.80" textLength="12.87" lengthAdjust="spacing" style="font-size:13.6px" fill="#151515" stroke="#151515" stroke-width="0.25">ɑ)</text>
<text x="96.75" y="77.80" textLength="53.63" lengthAdjust="spacing" style="font-size:13.6px" fill="#151515" stroke="#151515" stroke-width="0.25">Antɑrctic</text>
<text x="156.0" y="77.80" textLength="17.92" lengthAdjust="spacing" style="font-size:13.6px" fill="#151515" stroke="#151515" stroke-width="0.25">Ice</text>
<text x="179.5" y="77.80" textLength="37.36" lengthAdjust="spacing" style="font-size:13.6px" fill="#151515" stroke="#151515" stroke-width="0.25">Extent</text>
<text x="77.75" y="335.50" textLength="12.89" lengthAdjust="spacing" style="font-size:13.6px" fill="#151515" stroke="#151515" stroke-width="0.25">b)</text>
<text x="97.0" y="335.50" textLength="53.63" lengthAdjust="spacing" style="font-size:13.6px" fill="#151515" stroke="#151515" stroke-width="0.25">Antɑrctic</text>
<text x="156.25" y="335.50" textLength="17.91" lengthAdjust="spacing" style="font-size:13.6px" fill="#151515" stroke="#151515" stroke-width="0.25">Ice</text>
<text x="180.0" y="335.50" textLength="26.1" lengthAdjust="spacing" style="font-size:13.6px" fill="#151515" stroke="#151515" stroke-width="0.25">Areɑ</text>
<text x="119.5" y="104.80" textLength="25.42" lengthAdjust="spacing" style="font-size:11.8px" fill="#dd7f2a" stroke="#dd7f2a" stroke-width="0.3">1979</text>
<text x="146.0" y="104.80" textLength="8.02" lengthAdjust="spacing" style="font-size:11.8px" fill="#dd7f2a" stroke="#dd7f2a" stroke-width="0.3">−</text>
<text x="155.25" y="104.80" textLength="26.16" lengthAdjust="spacing" style="font-size:11.8px" fill="#dd7f2a" stroke="#dd7f2a" stroke-width="0.3">1988</text>
<text x="119.5" y="116.73" textLength="25.42" lengthAdjust="spacing" style="font-size:11.8px" fill="#229922" stroke="#229922" stroke-width="0.3">1989</text>
<text x="146.0" y="116.73" textLength="8.02" lengthAdjust="spacing" style="font-size:11.8px" fill="#229922" stroke="#229922" stroke-width="0.3">−</text>
<text x="155.25" y="116.73" textLength="26.16" lengthAdjust="spacing" style="font-size:11.8px" fill="#229922" stroke="#229922" stroke-width="0.3">1998</text>
<text x="119.5" y="128.66" textLength="25.42" lengthAdjust="spacing" style="font-size:11.8px" fill="#1818cc" stroke="#1818cc" stroke-width="0.3">1999</text>
<text x="146.0" y="128.66" textLength="8.02" lengthAdjust="spacing" style="font-size:11.8px" fill="#1818cc" stroke="#1818cc" stroke-width="0.3">−</text>
<text x="155.5" y="128.66" textLength="25.9" lengthAdjust="spacing" style="font-size:11.8px" fill="#1818cc" stroke="#1818cc" stroke-width="0.3">2008</text>
<text x="119.75" y="140.59" textLength="25.15" lengthAdjust="spacing" style="font-size:11.8px" fill="#8a28bb" stroke="#8a28bb" stroke-width="0.3">2009</text>
<text x="146.0" y="140.59" textLength="8.02" lengthAdjust="spacing" style="font-size:11.8px" fill="#8a28bb" stroke="#8a28bb" stroke-width="0.3">−</text>
<text x="155.5" y="140.59" textLength="25.9" lengthAdjust="spacing" style="font-size:11.8px" fill="#8a28bb" stroke="#8a28bb" stroke-width="0.3">2018</text>
<text x="119.5" y="152.52" textLength="25.9" lengthAdjust="spacing" style="font-size:11.8px" fill="#b4b4b4" stroke="#b4b4b4" stroke-width="0.3">2012</text>
<text x="119.5" y="164.45" textLength="25.65" lengthAdjust="spacing" style="font-size:11.8px" fill="#5e5e5e" stroke="#5e5e5e" stroke-width="0.3">2014</text>
<text x="119.5" y="176.38" textLength="26.15" lengthAdjust="spacing" style="font-size:11.8px" fill="#dc1c1c" stroke="#dc1c1c" stroke-width="0.3">2023</text>
<text x="69.25" y="581.90" textLength="20.75" lengthAdjust="spacing" style="font-size:12.7px" fill="#151515" stroke="#151515" stroke-width="0.12">Jɑn</text>
<text x="99.75" y="581.90" textLength="20.77" lengthAdjust="spacing" style="font-size:12.7px" fill="#151515" stroke="#151515" stroke-width="0.12">Feb</text>
<text x="126.5" y="581.90" textLength="21.76" lengthAdjust="spacing" style="font-size:12.7px" fill="#151515" stroke="#151515" stroke-width="0.12">Mɑr</text>
<text x="158.75" y="581.90" textLength="19.01" lengthAdjust="spacing" style="font-size:12.7px" fill="#151515" stroke="#151515" stroke-width="0.12">Apr</text>
<text x="186.5" y="581.90" textLength="23.0" lengthAdjust="spacing" style="font-size:12.7px" fill="#151515" stroke="#151515" stroke-width="0.12">Mɑy</text>
<text x="218.5" y="581.90" textLength="21.75" lengthAdjust="spacing" style="font-size:12.7px" fill="#151515" stroke="#151515" stroke-width="0.12">Jun</text>
<text x="251.0" y="581.90" textLength="17.24" lengthAdjust="spacing" style="font-size:12.7px" fill="#151515" stroke="#151515" stroke-width="0.12">Jul</text>
<text x="278.75" y="581.90" textLength="22.75" lengthAdjust="spacing" style="font-size:12.7px" fill="#151515" stroke="#151515" stroke-width="0.12">Aug</text>
<text x="309.5" y="581.90" textLength="22.51" lengthAdjust="spacing" style="font-size:12.7px" fill="#151515" stroke="#151515" stroke-width="0.12">Sep</text>
<text x="339.5" y="581.90" textLength="20.25" lengthAdjust="spacing" style="font-size:12.7px" fill="#151515" stroke="#151515" stroke-width="0.12">Oct</text>
<text x="369.75" y="581.90" textLength="22.0" lengthAdjust="spacing" style="font-size:12.7px" fill="#151515" stroke="#151515" stroke-width="0.12">Nov</text>
<text x="399.5" y="581.90" textLength="21.76" lengthAdjust="spacing" style="font-size:12.7px" fill="#151515" stroke="#151515" stroke-width="0.12">Dec</text>
<text x="204.0" y="237.90" textLength="53.23" lengthAdjust="spacing" style="font-size:10.0px" fill="#2e2e2e" stroke="#2e2e2e" stroke-width="0.0">Ice Extent:</text>
<text x="204.5" y="249.50" textLength="38.71" lengthAdjust="spacing" style="font-size:10.0px" fill="#2e2e2e" stroke="#2e2e2e" stroke-width="0.0">Current:</text>
<text x="204.25" y="261.20" textLength="24.71" lengthAdjust="spacing" style="font-size:10.0px" fill="#2e2e2e" stroke="#2e2e2e" stroke-width="0.0">Meɑn</text>
<text x="239.0" y="261.20" textLength="2.6" lengthAdjust="spacing" style="font-size:10.0px" fill="#2e2e2e" stroke="#2e2e2e" stroke-width="0.0">:</text>
<text x="204.25" y="273.00" textLength="17.21" lengthAdjust="spacing" style="font-size:10.0px" fill="#2e2e2e" stroke="#2e2e2e" stroke-width="0.0">Min</text>
<text x="241.0" y="273.00" textLength="2.6" lengthAdjust="spacing" style="font-size:10.0px" fill="#2e2e2e" stroke="#2e2e2e" stroke-width="0.0">:</text>
<text x="204.25" y="284.60" textLength="18.94" lengthAdjust="spacing" style="font-size:10.0px" fill="#2e2e2e" stroke="#2e2e2e" stroke-width="0.0">Mɑx</text>
<text x="238.25" y="284.60" textLength="2.6" lengthAdjust="spacing" style="font-size:10.0px" fill="#2e2e2e" stroke="#2e2e2e" stroke-width="0.0">:</text>
<text x="248.5" y="249.50" textLength="40.2" lengthAdjust="spacing" style="font-size:10.0px" fill="#2e2e2e" stroke="#2e2e2e" stroke-width="0.0">15.6x10</text>
<text x="289.0" y="244.10" textLength="4.82" lengthAdjust="spacing" style="font-size:6.0px" fill="#2e2e2e" stroke="#2e2e2e" stroke-width="0.2">6</text>
<text x="296.0" y="249.50" textLength="14.7" lengthAdjust="spacing" style="font-size:10.0px" fill="#2e2e2e" stroke="#2e2e2e" stroke-width="0.0">km</text>
<text x="311.0" y="246.10" textLength="4.42" lengthAdjust="spacing" style="font-size:6.0px" fill="#2e2e2e" stroke="#2e2e2e" stroke-width="0.2">2</text>
<text x="320.25" y="249.50" textLength="53.95" lengthAdjust="spacing" style="font-size:10.0px" fill="#2e2e2e" stroke="#2e2e2e" stroke-width="0.0">(11/5/23)</text>
<text x="247.5" y="261.20" textLength="40.45" lengthAdjust="spacing" style="font-size:10.0px" fill="#2e2e2e" stroke="#2e2e2e" stroke-width="0.0">17.3x10</text>
<text x="288.0" y="255.80" textLength="4.92" lengthAdjust="spacing" style="font-size:6.0px" fill="#2e2e2e" stroke="#2e2e2e" stroke-width="0.2">6</text>
<text x="295.25" y="261.20" textLength="14.46" lengthAdjust="spacing" style="font-size:10.0px" fill="#2e2e2e" stroke="#2e2e2e" stroke-width="0.0">km</text>
<text x="310.0" y="257.80" textLength="4.12" lengthAdjust="spacing" style="font-size:6.0px" fill="#2e2e2e" stroke="#2e2e2e" stroke-width="0.2">2</text>
<text x="320.0" y="261.20" textLength="65.45" lengthAdjust="spacing" style="font-size:10.0px" fill="#2e2e2e" stroke="#2e2e2e" stroke-width="0.0">(1979−2023)</text>
<text x="248.5" y="273.00" textLength="40.2" lengthAdjust="spacing" style="font-size:10.0px" fill="#2e2e2e" stroke="#2e2e2e" stroke-width="0.0">15.6x10</text>
<text x="289.0" y="267.60" textLength="4.82" lengthAdjust="spacing" style="font-size:6.0px" fill="#2e2e2e" stroke="#2e2e2e" stroke-width="0.2">6</text>
<text x="296.0" y="273.00" textLength="14.7" lengthAdjust="spacing" style="font-size:10.0px" fill="#2e2e2e" stroke="#2e2e2e" stroke-width="0.0">km</text>
<text x="311.0" y="269.60" textLength="4.42" lengthAdjust="spacing" style="font-size:6.0px" fill="#2e2e2e" stroke="#2e2e2e" stroke-width="0.2">2</text>
<text x="320.25" y="273.00" textLength="33.94" lengthAdjust="spacing" style="font-size:10.0px" fill="#2e2e2e" stroke="#2e2e2e" stroke-width="0.0">(2023)</text>
<text x="246.75" y="284.60" textLength="40.19" lengthAdjust="spacing" style="font-size:10.0px" fill="#2e2e2e" stroke="#2e2e2e" stroke-width="0.0">18.2x10</text>
<text x="287.25" y="279.20" textLength="4.92" lengthAdjust="spacing" style="font-size:6.0px" fill="#2e2e2e" stroke="#2e2e2e" stroke-width="0.2">6</text>
<text x="294.25" y="284.60" textLength="13.98" lengthAdjust="spacing" style="font-size:10.0px" fill="#2e2e2e" stroke="#2e2e2e" stroke-width="0.0">km</text>
<text x="308.25" y="281.20" textLength="4.42" lengthAdjust="spacing" style="font-size:6.0px" fill="#2e2e2e" stroke="#2e2e2e" stroke-width="0.2">2</text>
<text x="317.5" y="284.60" textLength="34.19" lengthAdjust="spacing" style="font-size:10.0px" fill="#2e2e2e" stroke="#2e2e2e" stroke-width="0.0">(2013)</text>
<text x="204.0" y="492.90" textLength="41.99" lengthAdjust="spacing" style="font-size:10.0px" fill="#2e2e2e" stroke="#2e2e2e" stroke-width="0.0">Ice Areɑ:</text>
<text x="204.5" y="504.50" textLength="38.71" lengthAdjust="spacing" style="font-size:10.0px" fill="#2e2e2e" stroke="#2e2e2e" stroke-width="0.0">Current:</text>
<text x="204.25" y="516.20" textLength="24.71" lengthAdjust="spacing" style="font-size:10.0px" fill="#2e2e2e" stroke="#2e2e2e" stroke-width="0.0">Meɑn</text>
<text x="239.0" y="516.20" textLength="2.6" lengthAdjust="spacing" style="font-size:10.0px" fill="#2e2e2e" stroke="#2e2e2e" stroke-width="0.0">:</text>
<text x="204.25" y="528.00" textLength="17.21" lengthAdjust="spacing" style="font-size:10.0px" fill="#2e2e2e" stroke="#2e2e2e" stroke-width="0.0">Min</text>
<text x="241.0" y="528.00" textLength="2.6" lengthAdjust="spacing" style="font-size:10.0px" fill="#2e2e2e" stroke="#2e2e2e" stroke-width="0.0">:</text>
<text x="204.25" y="539.60" textLength="18.94" lengthAdjust="spacing" style="font-size:10.0px" fill="#2e2e2e" stroke="#2e2e2e" stroke-width="0.0">Mɑx</text>
<text x="238.25" y="539.60" textLength="2.6" lengthAdjust="spacing" style="font-size:10.0px" fill="#2e2e2e" stroke="#2e2e2e" stroke-width="0.0">:</text>
<text x="248.5" y="504.50" textLength="40.2" lengthAdjust="spacing" style="font-size:10.0px" fill="#2e2e2e" stroke="#2e2e2e" stroke-width="0.0">13.1x10</text>
<text x="289.0" y="499.10" textLength="4.82" lengthAdjust="spacing" style="font-size:6.0px" fill="#2e2e2e" stroke="#2e2e2e" stroke-width="0.2">6</text>
<text x="296.0" y="504.50" textLength="14.7" lengthAdjust="spacing" style="font-size:10.0px" fill="#2e2e2e" stroke="#2e2e2e" stroke-width="0.0">km</text>
<text x="311.0" y="501.10" textLength="4.42" lengthAdjust="spacing" style="font-size:6.0px" fill="#2e2e2e" stroke="#2e2e2e" stroke-width="0.2">2</text>
<text x="320.25" y="504.50" textLength="53.95" lengthAdjust="spacing" style="font-size:10.0px" fill="#2e2e2e" stroke="#2e2e2e" stroke-width="0.0">(11/5/23)</text>
<text x="247.5" y="516.20" textLength="40.45" lengthAdjust="spacing" style="font-size:10.0px" fill="#2e2e2e" stroke="#2e2e2e" stroke-width="0.0">14.6x10</text>
<text x="288.0" y="510.80" textLength="4.92" lengthAdjust="spacing" style="font-size:6.0px" fill="#2e2e2e" stroke="#2e2e2e" stroke-width="0.2">6</text>
<text x="295.25" y="516.20" textLength="14.46" lengthAdjust="spacing" style="font-size:10.0px" fill="#2e2e2e" stroke="#2e2e2e" stroke-width="0.0">km</text>
<text x="310.0" y="512.80" textLength="4.12" lengthAdjust="spacing" style="font-size:6.0px" fill="#2e2e2e" stroke="#2e2e2e" stroke-width="0.2">2</text>
<text x="320.0" y="516.20" textLength="65.45" lengthAdjust="spacing" style="font-size:10.0px" fill="#2e2e2e" stroke="#2e2e2e" stroke-width="0.0">(1979−2023)</text>
<text x="248.5" y="528.00" textLength="40.2" lengthAdjust="spacing" style="font-size:10.0px" fill="#2e2e2e" stroke="#2e2e2e" stroke-width="0.0">13.1x10</text>
<text x="289.0" y="522.60" textLength="4.82" lengthAdjust="spacing" style="font-size:6.0px" fill="#2e2e2e" stroke="#2e2e2e" stroke-width="0.2">6</text>
<text x="296.0" y="528.00" textLength="14.7" lengthAdjust="spacing" style="font-size:10.0px" fill="#2e2e2e" stroke="#2e2e2e" stroke-width="0.0">km</text>
<text x="311.0" y="524.60" textLength="4.42" lengthAdjust="spacing" style="font-size:6.0px" fill="#2e2e2e" stroke="#2e2e2e" stroke-width="0.2">2</text>
<text x="320.25" y="528.00" textLength="33.94" lengthAdjust="spacing" style="font-size:10.0px" fill="#2e2e2e" stroke="#2e2e2e" stroke-width="0.0">(2023)</text>
<text x="246.75" y="539.60" textLength="40.19" lengthAdjust="spacing" style="font-size:10.0px" fill="#2e2e2e" stroke="#2e2e2e" stroke-width="0.0">15.8x10</text>
<text x="287.25" y="534.20" textLength="4.92" lengthAdjust="spacing" style="font-size:6.0px" fill="#2e2e2e" stroke="#2e2e2e" stroke-width="0.2">6</text>
<text x="294.25" y="539.60" textLength="13.98" lengthAdjust="spacing" style="font-size:10.0px" fill="#2e2e2e" stroke="#2e2e2e" stroke-width="0.0">km</text>
<text x="308.25" y="536.20" textLength="4.42" lengthAdjust="spacing" style="font-size:6.0px" fill="#2e2e2e" stroke="#2e2e2e" stroke-width="0.2">2</text>
<text x="317.5" y="539.60" textLength="34.19" lengthAdjust="spacing" style="font-size:10.0px" fill="#2e2e2e" stroke="#2e2e2e" stroke-width="0.0">(2013)</text>
<text x="360.25" y="143.30" textLength="20.92" lengthAdjust="spacing" style="font-size:9.8px" fill="#505050" stroke="#505050" stroke-width="0.0">11/5</text>
<text x="360.0" y="430.90" textLength="21.92" lengthAdjust="spacing" style="font-size:9.8px" fill="#505050" stroke="#505050" stroke-width="0.0">11/5</text>
<text transform="translate(28.3,255.75) rotate(-90)" textLength="20.47" lengthAdjust="spacingAndGlyphs" style="font-size:14.1px" fill="#151515" stroke="#151515" stroke-width="0.3">Ice</text>
<text transform="translate(28.3,227.25) rotate(-90)" textLength="44.94" lengthAdjust="spacingAndGlyphs" style="font-size:14.1px" fill="#151515" stroke="#151515" stroke-width="0.3">Extent</text>
<text transform="translate(28.6,166.0) rotate(-90)" textLength="16.44" lengthAdjust="spacingAndGlyphs" style="font-size:14.1px" fill="#151515" stroke="#151515" stroke-width="0.3">10</text>
<text transform="translate(22.0,148.5) rotate(-90)" textLength="4.66" lengthAdjust="spacingAndGlyphs" style="font-size:7.6px" fill="#151515" stroke="#151515" stroke-width="0.35">6</text>
<text transform="translate(28.2,136.75) rotate(-90)" textLength="21.72" lengthAdjust="spacingAndGlyphs" style="font-size:14.1px" fill="#151515" stroke="#151515" stroke-width="0.3">km</text>
<text transform="translate(21.75,114.75) rotate(-90)" textLength="4.16" lengthAdjust="spacingAndGlyphs" style="font-size:7.6px" fill="#151515" stroke="#151515" stroke-width="0.35">2</text>
<text transform="translate(28.3,507.0) rotate(-90)" textLength="21.0" lengthAdjust="spacingAndGlyphs" style="font-size:14.1px" fill="#151515" stroke="#151515" stroke-width="0.3">Ice</text>
<text transform="translate(28.3,479.0) rotate(-90)" textLength="31.92" lengthAdjust="spacingAndGlyphs" style="font-size:14.1px" fill="#151515" stroke="#151515" stroke-width="0.3">Areɑ</text>
<text transform="translate(28.6,431.0) rotate(-90)" textLength="16.44" lengthAdjust="spacingAndGlyphs" style="font-size:14.1px" fill="#151515" stroke="#151515" stroke-width="0.3">10</text>
<text transform="translate(22.0,413.5) rotate(-90)" textLength="4.66" lengthAdjust="spacingAndGlyphs" style="font-size:7.6px" fill="#151515" stroke="#151515" stroke-width="0.35">6</text>
<text transform="translate(28.2,401.75) rotate(-90)" textLength="21.72" lengthAdjust="spacingAndGlyphs" style="font-size:14.1px" fill="#151515" stroke="#151515" stroke-width="0.3">km</text>
<text transform="translate(21.75,379.75) rotate(-90)" textLength="4.16" lengthAdjust="spacingAndGlyphs" style="font-size:7.6px" fill="#151515" stroke="#151515" stroke-width="0.35">2</text>
</svg>
</body></html>
